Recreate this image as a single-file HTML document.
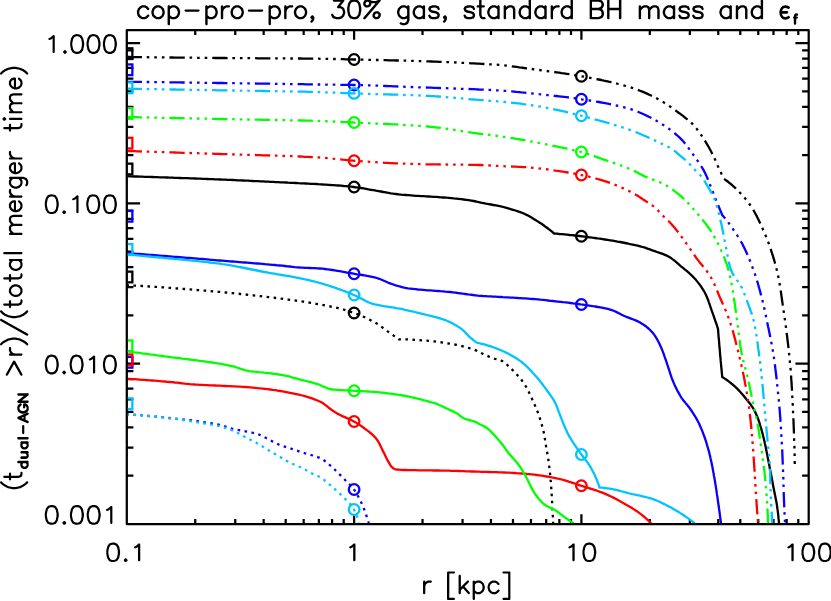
<!DOCTYPE html>
<html lang="en"><head><meta charset="utf-8"><title>cop-pro-pro, 30% gas, standard BH mass and epsilon_f</title>
<style>html,body{margin:0;padding:0;background:#fff;font-family:"Liberation Sans",sans-serif}svg{display:block}</style></head><body>
<svg width="831" height="601" viewBox="0 0 831 601" role="img" aria-label="cop-pro-pro, 30% gas, standard BH mass and epsilon_f; x axis r [kpc]; y axis (t_dual-AGN &gt;r)/(total merger time)">
<rect width="831" height="601" fill="#fff"/>
<defs><clipPath id="pc"><rect x="127.80" y="31.15" width="679.90" height="491.85"/></clipPath></defs>
<g stroke="#000" stroke-width="2.25" fill="none" stroke-linecap="butt">
<rect x="126.80" y="30.15" width="681.90" height="493.85" stroke-linejoin="round"/>
<path d="M195.22 524.00v-4.90M195.22 30.15v4.90M235.25 524.00v-4.90M235.25 30.15v4.90M263.65 524.00v-4.90M263.65 30.15v4.90M285.68 524.00v-4.90M285.68 30.15v4.90M303.67 524.00v-4.90M303.67 30.15v4.90M318.89 524.00v-4.90M318.89 30.15v4.90M332.07 524.00v-4.90M332.07 30.15v4.90M343.70 524.00v-4.90M343.70 30.15v4.90M354.10 524.00v-9.70M354.10 30.15v9.70M422.52 524.00v-4.90M422.52 30.15v4.90M462.55 524.00v-4.90M462.55 30.15v4.90M490.95 524.00v-4.90M490.95 30.15v4.90M512.98 524.00v-4.90M512.98 30.15v4.90M530.97 524.00v-4.90M530.97 30.15v4.90M546.19 524.00v-4.90M546.19 30.15v4.90M559.37 524.00v-4.90M559.37 30.15v4.90M571.00 524.00v-4.90M571.00 30.15v4.90M581.40 524.00v-9.70M581.40 30.15v9.70M649.82 524.00v-4.90M649.82 30.15v4.90M689.85 524.00v-4.90M689.85 30.15v4.90M718.25 524.00v-4.90M718.25 30.15v4.90M740.28 524.00v-4.90M740.28 30.15v4.90M758.27 524.00v-4.90M758.27 30.15v4.90M773.49 524.00v-4.90M773.49 30.15v4.90M786.67 524.00v-4.90M786.67 30.15v4.90M798.30 524.00v-4.90M798.30 30.15v4.90M126.80 475.74h6.60M808.70 475.74h-6.60M126.80 447.52h6.60M808.70 447.52h-6.60M126.80 427.49h6.60M808.70 427.49h-6.60M126.80 411.96h6.60M808.70 411.96h-6.60M126.80 399.26h6.60M808.70 399.26h-6.60M126.80 388.53h6.60M808.70 388.53h-6.60M126.80 379.23h6.60M808.70 379.23h-6.60M126.80 371.03h6.60M808.70 371.03h-6.60M126.80 363.70h13.30M808.70 363.70h-13.30M126.80 315.44h6.60M808.70 315.44h-6.60M126.80 287.22h6.60M808.70 287.22h-6.60M126.80 267.19h6.60M808.70 267.19h-6.60M126.80 251.66h6.60M808.70 251.66h-6.60M126.80 238.96h6.60M808.70 238.96h-6.60M126.80 228.23h6.60M808.70 228.23h-6.60M126.80 218.93h6.60M808.70 218.93h-6.60M126.80 210.73h6.60M808.70 210.73h-6.60M126.80 203.40h13.30M808.70 203.40h-13.30M126.80 155.14h6.60M808.70 155.14h-6.60M126.80 126.92h6.60M808.70 126.92h-6.60M126.80 106.89h6.60M808.70 106.89h-6.60M126.80 91.36h6.60M808.70 91.36h-6.60M126.80 78.66h6.60M808.70 78.66h-6.60M126.80 67.93h6.60M808.70 67.93h-6.60M126.80 58.63h6.60M808.70 58.63h-6.60M126.80 50.43h6.60M808.70 50.43h-6.60M126.80 43.10h13.30M808.70 43.10h-13.30"/>
</g>
<g clip-path="url(#pc)" fill="none" stroke-width="2.30" stroke-linejoin="round">
<path d="M127.0 176.2L129.5 176.3L132.0 176.4L134.6 176.5L137.1 176.5L139.6 176.6L142.1 176.7L144.6 176.8L147.2 176.9L149.7 176.9L152.2 177.0L154.7 177.1L157.2 177.2L159.8 177.3L162.3 177.4L164.8 177.4L167.3 177.5L169.8 177.6L172.4 177.7L174.9 177.8L177.4 177.9L179.9 178.0L182.4 178.1L184.9 178.2L187.5 178.2L190.0 178.3L192.5 178.4L195.0 178.5L197.5 178.6L200.1 178.7L202.6 178.8L205.1 178.9L207.6 179.0L210.1 179.1L212.7 179.2L215.2 179.3L217.7 179.4L220.2 179.5L222.7 179.6L225.3 179.7L227.8 179.8L230.3 179.9L232.8 180.0L235.3 180.1L237.8 180.3L240.4 180.4L242.9 180.5L245.4 180.6L247.9 180.7L250.4 180.8L253.0 181.0L255.5 181.1L258.0 181.2L260.5 181.3L263.0 181.4L265.5 181.6L268.1 181.7L270.6 181.8L273.1 181.9L275.6 182.1L278.1 182.2L280.6 182.3L283.2 182.4L285.7 182.5L288.2 182.7L290.7 182.8L293.2 182.9L295.8 183.0L298.3 183.2L300.8 183.3L303.3 183.4L305.8 183.5L308.3 183.6L310.9 183.8L313.4 183.9L315.9 184.0L318.4 184.2L320.9 184.3L323.4 184.5L326.0 184.6L328.5 184.8L331.0 185.0L333.5 185.1L336.0 185.3L338.5 185.5L341.1 185.7L343.6 186.0L346.1 186.2L348.6 186.4L351.1 186.7L353.6 187.0L356.1 187.3L358.6 187.6L361.1 188.0L363.6 188.4L366.0 188.9L368.5 189.4L371.0 189.8L373.5 190.2L376.0 190.7L378.5 191.1L381.0 191.5L383.4 192.0L385.9 192.4L388.4 192.8L390.9 193.3L393.4 193.7L395.9 194.0L398.4 194.3L400.9 194.6L403.4 194.8L405.9 195.0L408.4 195.2L410.9 195.4L413.4 195.6L415.9 195.8L418.5 195.9L421.0 196.1L423.5 196.2L426.0 196.4L428.5 196.5L431.1 196.6L433.6 196.8L436.1 196.9L438.6 197.1L441.1 197.3L443.6 197.5L446.2 197.7L448.7 197.9L451.2 198.1L453.7 198.4L456.2 198.6L458.7 198.9L461.2 199.2L463.7 199.5L466.2 199.8L468.7 200.2L471.2 200.6L473.7 201.0L476.1 201.5L478.6 202.1L481.0 202.7L483.5 203.2L486.0 203.7L488.5 204.1L491.0 204.5L493.4 205.0L495.9 205.4L498.4 205.9L500.9 206.4L503.3 207.0L505.7 207.7L508.2 208.4L510.6 209.1L513.1 209.8L515.5 210.5L517.9 211.3L520.2 212.1L522.6 213.0L524.8 214.0L527.1 215.1L529.3 216.3L531.5 217.6L533.7 218.9L535.9 220.2L538.0 221.6L540.1 222.9L542.2 224.3L544.3 225.8L546.3 227.3L548.4 228.8L550.4 230.3L552.3 231.9L554.2 233.5L556.8 233.7L559.3 234.0L561.9 234.2L564.4 234.4L567.0 234.7L569.5 235.0L572.1 235.2L574.6 235.5L577.2 235.8L579.7 236.0L582.2 236.3L584.8 236.7L587.3 237.0L589.8 237.3L592.4 237.7L594.9 238.0L597.4 238.4L600.0 238.7L602.5 239.1L605.0 239.5L607.6 239.9L610.1 240.3L612.6 240.7L615.1 241.1L617.6 241.6L620.2 242.0L622.7 242.5L625.2 243.0L627.7 243.5L630.2 244.1L632.7 244.6L635.2 245.1L637.7 245.7L640.2 246.3L642.6 247.0L645.1 247.7L647.5 248.6L649.9 249.4L652.3 250.3L654.7 251.1L657.1 252.0L659.6 252.8L662.0 253.7L664.4 254.6L666.7 255.6L668.9 256.8L671.1 258.1L673.1 259.6L675.1 261.2L677.1 262.9L679.1 264.6L681.0 266.3L683.0 267.9L685.0 269.6L687.0 271.2L688.9 272.9L690.8 274.6L692.7 276.4L694.4 278.2L696.1 280.1L697.7 282.1L699.3 284.1L700.8 286.2L702.2 288.4L703.6 290.5L704.9 292.8L706.0 295.0L707.0 297.3L708.0 299.7L708.8 302.1L709.7 304.5L710.5 307.0L711.3 309.4L712.2 311.8L713.0 314.2L713.9 316.7L714.7 319.1L715.5 321.5L716.4 323.9L717.2 326.3L718.0 328.8L718.2 331.4L718.4 334.1L718.6 336.8L718.9 339.5L719.1 342.2L719.3 344.8L719.5 347.5L719.8 350.2L720.0 352.9L720.2 355.6L720.5 358.2L720.7 360.9L721.0 363.6L721.2 366.3L721.5 369.0L721.7 371.6L722.0 374.3L722.2 377.0L724.4 378.4L726.5 379.8L728.6 381.3L730.6 382.9L732.6 384.5L734.5 386.1L736.3 387.8L738.1 389.6L739.9 391.5L741.6 393.4L743.2 395.3L744.8 397.3L746.4 399.3L748.0 401.2L749.7 403.2L751.2 405.3L752.6 407.3L753.9 409.5L755.1 411.7L756.1 414.1L757.1 416.4L758.1 418.8L758.9 421.2L759.7 423.6L760.4 426.0L761.2 428.5L761.8 430.9L762.5 433.4L763.1 435.8L763.7 438.3L764.3 440.8L764.8 443.3L765.4 445.7L765.9 448.2L766.4 450.7L766.9 453.2L767.4 455.7L767.9 458.2L768.4 460.7L768.9 463.2L769.4 465.7L769.8 468.2L770.3 470.7L770.8 473.2L771.3 475.6L771.7 478.1L772.2 480.6L772.7 483.1L773.1 485.6L773.6 488.1L774.1 490.6L774.6 493.1L775.1 495.6L775.6 498.1L776.1 500.6L776.6 503.1L777.0 505.6L777.3 508.1L777.7 510.6L778.0 513.1L778.3 515.7L778.5 518.2L778.8 520.7L779.0 523.2" stroke="#000000"/>
<path d="M127.0 285.2L129.5 285.3L132.1 285.5L134.6 285.6L137.1 285.7L139.7 285.9L142.2 286.0L144.7 286.2L147.2 286.3L149.8 286.5L152.3 286.7L154.8 286.8L157.4 287.0L159.9 287.2L162.4 287.3L165.0 287.5L167.5 287.7L170.0 287.9L172.5 288.1L175.1 288.3L177.6 288.5L180.1 288.6L182.6 288.8L185.2 289.0L187.7 289.2L190.2 289.4L192.7 289.7L195.3 289.9L197.8 290.1L200.3 290.3L202.8 290.5L205.4 290.7L207.9 290.9L210.4 291.1L212.9 291.4L215.5 291.6L218.0 291.8L220.5 292.0L223.0 292.3L225.5 292.5L228.1 292.7L230.6 293.0L233.1 293.2L235.6 293.5L238.2 293.7L240.7 294.0L243.2 294.3L245.7 294.5L248.2 294.8L250.8 295.1L253.3 295.3L255.8 295.6L258.3 295.9L260.8 296.2L263.3 296.5L265.9 296.8L268.4 297.1L270.9 297.4L273.4 297.7L275.9 298.0L278.4 298.3L281.0 298.6L283.5 299.0L286.0 299.3L288.5 299.6L291.0 300.0L293.5 300.3L296.0 300.6L298.5 301.0L301.0 301.3L303.5 301.7L306.1 302.1L308.6 302.5L311.1 302.9L313.6 303.4L316.0 303.8L318.5 304.2L321.0 304.7L323.5 305.1L326.0 305.6L328.5 306.1L331.0 306.6L333.5 307.1L336.0 307.6L338.4 308.2L340.9 308.9L343.3 309.5L345.7 310.3L348.2 311.0L350.6 311.8L353.0 312.6L355.3 313.5L357.7 314.4L360.1 315.3L362.4 316.3L364.8 317.3L367.1 318.4L369.4 319.5L371.6 320.7L373.8 321.9L376.0 323.1L378.1 324.4L380.2 325.9L382.3 327.4L384.3 328.9L386.4 330.4L388.4 331.9L390.5 333.4L392.6 334.8L394.6 336.3L396.7 337.8L398.8 339.3L401.3 339.3L403.8 339.3L406.4 339.4L408.9 339.5L411.5 339.6L414.0 339.8L416.5 339.9L419.1 340.1L421.6 340.3L424.1 340.4L426.7 340.6L429.2 340.8L431.7 341.1L434.3 341.4L436.8 341.7L439.3 342.1L441.8 342.4L444.3 342.8L446.9 343.2L449.4 343.6L451.8 344.1L454.4 344.5L456.9 345.0L459.4 345.6L461.9 346.1L464.4 346.7L466.8 347.4L469.3 348.1L471.7 348.9L474.1 349.7L476.4 350.6L478.6 351.8L480.9 352.9L483.2 354.0L485.6 355.1L487.9 356.1L490.2 357.1L492.6 358.0L495.0 358.8L497.5 359.3L500.0 360.0L502.1 361.0L504.2 362.4L506.3 364.0L508.2 365.8L510.1 367.6L511.9 369.4L513.7 371.2L515.5 373.0L517.2 374.9L518.9 376.8L520.6 378.8L522.1 380.8L523.6 382.9L525.0 385.0L526.3 387.1L527.5 389.4L528.6 391.6L529.7 393.9L530.8 396.3L531.9 398.6L532.9 400.9L534.0 403.2L535.0 405.6L536.0 407.9L537.0 410.3L537.9 412.6L538.8 415.0L539.6 417.4L540.3 419.8L541.1 422.3L541.8 424.7L542.5 427.2L543.1 429.6L543.7 432.1L544.2 434.6L544.6 437.1L545.0 439.6L545.4 442.1L545.8 444.6L546.2 447.1L546.6 449.7L547.1 452.2L547.5 454.7L547.9 457.2L548.4 459.7L548.7 462.2L549.0 464.7L549.3 467.2L549.6 469.8L549.9 472.3L550.2 474.8L550.4 477.3L550.6 479.9L550.9 482.4L551.1 484.9L551.2 487.5L551.4 490.0L551.6 492.5L551.7 495.1L551.9 497.6L552.0 500.2L552.1 502.7L552.2 505.2L552.4 507.8L552.5 510.3L552.7 512.9L552.8 515.4L553.0 517.9L553.1 520.5L553.2 523.0" stroke="#000000" stroke-dasharray="2.6 4.44" stroke-dashoffset="0.65"/>
<path d="M127.0 57.0L129.5 57.0L132.0 57.1L134.5 57.1L137.1 57.1L139.6 57.2L142.1 57.2L144.6 57.2L147.1 57.2L149.6 57.3L152.2 57.3L154.7 57.3L157.2 57.4L159.7 57.4L162.2 57.4L164.7 57.4L167.3 57.5L169.8 57.5L172.3 57.5L174.8 57.6L177.3 57.6L179.8 57.6L182.3 57.6L184.9 57.7L187.4 57.7L189.9 57.7L192.4 57.7L194.9 57.8L197.4 57.8L200.0 57.8L202.5 57.8L205.0 57.9L207.5 57.9L210.0 57.9L212.5 57.9L215.1 58.0L217.6 58.0L220.1 58.0L222.6 58.0L225.1 58.0L227.6 58.1L230.1 58.1L232.7 58.1L235.2 58.1L237.7 58.1L240.2 58.2L242.7 58.2L245.2 58.2L247.8 58.2L250.3 58.2L252.8 58.2L255.3 58.2L257.8 58.3L260.3 58.3L262.9 58.3L265.4 58.3L267.9 58.3L270.4 58.3L272.9 58.4L275.4 58.4L278.0 58.4L280.5 58.4L283.0 58.4L285.5 58.4L288.0 58.5L290.5 58.5L293.0 58.5L295.6 58.5L298.1 58.5L300.6 58.5L303.1 58.6L305.6 58.6L308.1 58.6L310.7 58.6L313.2 58.7L315.7 58.7L318.2 58.7L320.7 58.8L323.2 58.8L325.8 58.8L328.3 58.9L330.8 58.9L333.3 59.0L335.8 59.0L338.3 59.1L340.8 59.2L343.4 59.2L345.9 59.3L348.4 59.4L350.9 59.4L353.4 59.5L355.9 59.5L358.5 59.6L361.0 59.7L363.5 59.7L366.0 59.8L368.5 59.8L371.0 59.9L373.5 59.9L376.1 60.0L378.6 60.0L381.1 60.1L383.6 60.2L386.1 60.2L388.6 60.3L391.2 60.3L393.7 60.4L396.2 60.5L398.7 60.5L401.2 60.6L403.7 60.6L406.2 60.7L408.8 60.8L411.3 60.8L413.8 60.9L416.3 61.0L418.8 61.1L421.3 61.1L423.8 61.2L426.4 61.3L428.9 61.4L431.4 61.5L433.9 61.6L436.4 61.7L438.9 61.8L441.4 61.9L444.0 62.0L446.5 62.1L449.0 62.2L451.5 62.3L454.0 62.4L456.5 62.5L459.0 62.7L461.6 62.8L464.1 62.9L466.6 63.0L469.1 63.2L471.6 63.3L474.1 63.4L476.6 63.6L479.1 63.7L481.7 63.8L484.2 64.0L486.7 64.1L489.2 64.3L491.7 64.4L494.2 64.6L496.7 64.7L499.2 64.9L501.7 65.1L504.2 65.4L506.7 65.7L509.2 65.9L511.7 66.3L514.2 66.6L516.7 66.9L519.2 67.3L521.7 67.6L524.2 68.0L526.7 68.3L529.2 68.6L531.7 69.0L534.2 69.3L536.7 69.6L539.2 70.0L541.7 70.3L544.2 70.6L546.7 71.0L549.2 71.3L551.6 71.7L554.1 72.0L556.6 72.3L559.1 72.7L561.6 73.1L564.1 73.4L566.6 73.8L569.1 74.2L571.6 74.6L574.0 75.0L576.5 75.4L579.0 75.8L581.5 76.3L583.9 76.7L586.4 77.2L588.9 77.6L591.4 78.1L593.9 78.6L596.3 79.0L598.8 79.5L601.3 80.0L603.8 80.6L606.2 81.1L608.7 81.7L611.2 82.2L613.6 82.8L616.1 83.4L618.5 84.0L620.9 84.6L623.4 85.3L625.8 86.0L628.2 86.7L630.6 87.4L632.9 88.1L635.3 88.9L637.7 89.8L640.0 90.7L642.4 91.6L644.7 92.6L647.0 93.6L649.3 94.7L651.6 95.8L653.9 96.9L656.1 98.0L658.3 99.2L660.5 100.4L662.6 101.7L664.8 103.1L666.9 104.4L669.0 105.8L671.1 107.3L673.1 108.7L675.2 110.2L677.2 111.7L679.3 113.2L681.3 114.7L683.3 116.2L685.3 117.8L687.3 119.3L689.2 121.0L691.1 122.6L692.9 124.4L694.6 126.2L696.2 128.1L697.7 130.1L699.2 132.1L700.7 134.2L702.1 136.3L703.5 138.4L704.8 140.6L706.1 142.7L707.4 144.9L708.7 147.0L709.9 149.2L711.1 151.5L712.2 153.7L713.4 156.0L714.4 158.2L715.5 160.5L716.4 162.8L717.4 165.2L718.5 167.4L719.5 169.7L720.6 172.0L721.7 174.3L722.9 176.5L724.0 178.8L726.0 180.3L728.1 181.8L730.0 183.4L732.0 185.0L733.8 186.7L735.7 188.4L737.4 190.2L739.2 192.0L741.0 193.8L742.7 195.7L744.4 197.6L746.0 199.5L747.6 201.5L749.1 203.5L750.5 205.6L751.9 207.7L753.2 209.8L754.5 212.0L755.7 214.2L756.9 216.4L758.0 218.7L759.1 221.0L760.2 223.3L761.3 225.6L762.3 227.9L763.3 230.2L764.3 232.5L765.3 234.8L766.3 237.2L767.2 239.5L768.1 241.9L769.0 244.2L769.9 246.6L770.7 249.0L771.4 251.4L772.2 253.8L773.0 256.2L773.7 258.6L774.4 261.0L775.1 263.5L775.8 265.9L776.4 268.4L777.0 270.8L777.6 273.3L778.1 275.7L778.6 278.2L779.1 280.7L779.5 283.1L779.9 285.6L780.3 288.1L780.7 290.6L781.1 293.1L781.4 295.6L781.8 298.1L782.1 300.6L782.5 303.1L782.8 305.6L783.2 308.1L783.6 310.6L783.9 313.1L784.3 315.6L784.7 318.1L785.0 320.6L785.4 323.1L785.7 325.6L786.1 328.1L786.4 330.6L786.7 333.1L787.0 335.6L787.3 338.1L787.6 340.6L787.9 343.1L788.2 345.6L788.5 348.1L788.7 350.7L789.0 353.2L789.3 355.7L789.5 358.2L789.8 360.7L790.0 363.2L790.2 365.7L790.5 368.2L790.7 370.8L790.9 373.3L791.1 375.8L791.2 378.3L791.4 380.8L791.6 383.3L791.7 385.8L791.9 388.4L792.0 390.9L792.2 393.4L792.3 395.9L792.4 398.4L792.6 401.0L792.7 403.5L792.8 406.0L792.9 408.5L793.0 411.0L793.1 413.6L793.3 416.1L793.4 418.6L793.5 421.1L793.6 423.7L793.7 426.2L793.8 428.7L793.9 431.2L794.0 433.7L794.0 436.3L794.1 438.8L794.2 441.3L794.3 443.8L794.4 446.3L794.4 448.9L794.5 451.4L794.6 453.9L794.6 456.4L794.7 459.0L794.7 461.5L794.8 464.0" stroke="#000000" pathLength="943.12" stroke-dasharray="15.3 4.75 2.6 4.95 2.6 4.95 2.6 5" stroke-dashoffset="0.35"/>
<path d="M127.0 378.8L129.5 378.9L132.0 379.1L134.5 379.2L137.1 379.4L139.6 379.6L142.1 379.8L144.6 379.9L147.1 380.1L149.6 380.3L152.1 380.5L154.7 380.7L157.2 380.9L159.7 381.1L162.2 381.3L164.7 381.5L167.2 381.8L169.7 382.0L172.2 382.2L174.7 382.5L177.2 382.7L179.7 383.0L182.3 383.3L184.8 383.6L187.3 383.8L189.8 384.1L192.3 384.3L194.8 384.5L197.3 384.6L199.8 384.8L202.3 384.9L204.9 385.1L207.4 385.2L209.9 385.3L212.4 385.4L214.9 385.5L217.4 385.6L220.0 385.7L222.5 385.9L225.0 386.0L227.5 386.1L230.0 386.2L232.5 386.3L235.1 386.4L237.6 386.6L240.1 386.7L242.6 386.8L245.1 387.0L247.6 387.2L250.2 387.4L252.7 387.6L255.2 387.8L257.7 388.1L260.2 388.3L262.7 388.6L265.2 388.9L267.7 389.2L270.2 389.5L272.7 389.9L275.2 390.2L277.7 390.6L280.2 391.0L282.7 391.4L285.1 391.8L287.6 392.3L290.1 392.8L292.6 393.3L295.0 393.8L297.5 394.3L300.0 394.9L302.4 395.5L304.8 396.2L307.2 396.9L309.7 397.6L312.1 398.4L314.5 399.3L316.8 400.2L319.1 401.2L321.4 402.3L323.5 403.6L325.5 405.1L327.5 406.7L329.4 408.3L331.5 409.8L333.6 411.2L335.7 412.6L337.9 413.9L340.1 415.0L342.4 416.1L344.7 417.1L347.0 418.1L349.3 419.1L351.6 420.2L353.8 421.4L356.0 422.6L358.1 424.0L360.3 425.4L362.3 426.8L364.4 428.3L366.4 429.8L368.5 431.4L370.5 433.0L372.4 434.6L374.2 436.4L375.9 438.2L377.3 440.1L378.6 442.2L379.8 444.4L380.9 446.8L382.0 449.1L383.1 451.4L384.3 453.6L385.4 455.9L386.5 458.2L387.6 460.4L388.9 462.6L390.2 464.8L391.6 466.9L393.5 468.5L395.9 469.5L398.3 469.7L400.8 469.9L403.4 470.0L405.9 470.0L408.4 470.1L410.9 470.1L413.5 470.2L416.0 470.2L418.5 470.3L421.0 470.3L423.5 470.4L426.1 470.4L428.6 470.4L431.1 470.4L433.6 470.5L436.1 470.5L438.7 470.5L441.2 470.6L443.7 470.6L446.2 470.7L448.7 470.7L451.3 470.8L453.8 470.8L456.3 470.9L458.8 471.0L461.3 471.1L463.8 471.2L466.4 471.3L468.9 471.4L471.4 471.5L473.9 471.5L476.4 471.6L479.0 471.7L481.5 471.8L484.0 471.9L486.5 471.9L489.0 472.0L491.6 472.1L494.1 472.1L496.6 472.2L499.1 472.3L501.6 472.4L504.1 472.5L506.7 472.6L509.2 472.7L511.7 472.8L514.2 473.0L516.7 473.2L519.3 473.3L521.8 473.5L524.3 473.7L526.8 474.0L529.3 474.2L531.8 474.4L534.3 474.7L536.8 475.0L539.3 475.3L541.8 475.7L544.3 476.1L546.8 476.5L549.3 476.9L551.8 477.4L554.2 477.8L556.7 478.4L559.1 478.9L561.6 479.5L564.0 480.2L566.4 480.9L568.8 481.7L571.2 482.4L573.6 483.2L576.0 484.0L578.4 484.8L580.8 485.6L583.2 486.3L585.7 487.1L588.1 487.8L590.5 488.6L592.9 489.4L595.3 490.2L597.7 491.0L600.0 491.8L602.4 492.7L604.7 493.6L607.0 494.6L609.3 495.7L611.6 496.8L613.8 497.9L616.1 499.1L618.3 500.3L620.5 501.5L622.7 502.7L624.9 503.9L627.1 505.2L629.3 506.4L631.5 507.7L633.6 509.1L635.7 510.5L637.8 511.9L639.8 513.4L641.8 514.9L643.8 516.5L645.7 518.1L647.6 519.8L649.4 521.5L651.2 523.2" stroke="#ff0000"/>
<path d="M127.0 151.0L129.5 151.1L132.0 151.2L134.5 151.2L137.0 151.3L139.5 151.4L142.1 151.5L144.6 151.5L147.1 151.6L149.6 151.7L152.1 151.8L154.6 151.9L157.1 151.9L159.6 152.0L162.1 152.1L164.6 152.2L167.1 152.3L169.7 152.3L172.2 152.4L174.7 152.5L177.2 152.6L179.7 152.7L182.2 152.8L184.7 152.8L187.2 152.9L189.7 153.0L192.2 153.1L194.7 153.2L197.2 153.2L199.8 153.3L202.3 153.4L204.8 153.5L207.3 153.6L209.8 153.7L212.3 153.7L214.8 153.8L217.3 153.9L219.8 154.0L222.3 154.1L224.8 154.2L227.4 154.2L229.9 154.3L232.4 154.4L234.9 154.5L237.4 154.5L239.9 154.6L242.4 154.7L244.9 154.8L247.4 154.8L249.9 154.9L252.5 155.0L255.0 155.0L257.5 155.1L260.0 155.2L262.5 155.3L265.0 155.3L267.5 155.4L270.0 155.5L272.5 155.6L275.0 155.6L277.6 155.7L280.1 155.8L282.6 155.9L285.1 156.0L287.6 156.1L290.1 156.1L292.6 156.2L295.1 156.3L297.6 156.4L300.1 156.5L302.6 156.6L305.1 156.8L307.7 156.9L310.2 157.0L312.7 157.1L315.2 157.2L317.7 157.4L320.2 157.5L322.7 157.7L325.2 157.9L327.7 158.1L330.2 158.3L332.7 158.6L335.2 158.8L337.7 159.1L340.2 159.4L342.7 159.7L345.2 159.9L347.7 160.2L350.2 160.4L352.7 160.6L355.2 160.8L357.7 161.0L360.2 161.2L362.7 161.4L365.2 161.6L367.7 161.7L370.2 161.9L372.7 162.1L375.2 162.2L377.7 162.4L380.2 162.5L382.7 162.7L385.2 162.8L387.7 162.9L390.2 163.1L392.7 163.2L395.2 163.3L397.8 163.4L400.3 163.5L402.8 163.6L405.3 163.7L407.8 163.8L410.3 163.9L412.8 163.9L415.3 164.0L417.8 164.1L420.3 164.1L422.8 164.2L425.4 164.3L427.9 164.3L430.4 164.3L432.9 164.4L435.4 164.4L437.9 164.4L440.4 164.5L442.9 164.5L445.4 164.5L447.9 164.6L450.5 164.6L453.0 164.6L455.5 164.6L458.0 164.7L460.5 164.7L463.0 164.7L465.5 164.7L468.0 164.8L470.5 164.8L473.0 164.9L475.6 164.9L478.1 165.0L480.6 165.0L483.1 165.1L485.6 165.2L488.1 165.3L490.6 165.5L493.1 165.6L495.6 165.8L498.1 165.9L500.6 166.0L503.1 166.2L505.6 166.3L508.2 166.4L510.7 166.5L513.2 166.6L515.7 166.7L518.2 166.8L520.7 166.9L523.2 167.1L525.7 167.2L528.2 167.4L530.7 167.6L533.2 167.8L535.7 168.0L538.2 168.3L540.7 168.6L543.2 168.9L545.7 169.2L548.2 169.5L550.7 169.9L553.1 170.2L555.6 170.6L558.1 170.9L560.6 171.3L563.1 171.7L565.6 172.1L568.0 172.5L570.5 172.9L573.0 173.4L575.5 173.8L577.9 174.3L580.4 174.8L582.8 175.3L585.3 175.8L587.7 176.4L590.2 177.0L592.6 177.6L595.0 178.3L597.5 179.0L599.9 179.7L602.3 180.4L604.7 181.1L607.0 181.9L609.4 182.7L611.8 183.6L614.1 184.5L616.5 185.4L618.8 186.4L621.1 187.4L623.4 188.4L625.7 189.4L628.0 190.5L630.2 191.6L632.4 192.8L634.6 194.0L636.7 195.3L638.9 196.6L641.0 198.0L643.1 199.4L645.2 200.7L647.3 202.1L649.4 203.5L651.5 204.9L653.6 206.4L655.5 207.9L657.3 209.6L659.0 211.5L660.7 213.3L662.5 215.2L664.2 217.0L666.1 218.7L667.9 220.4L669.7 222.2L671.4 224.0L673.0 225.9L674.6 227.8L676.2 229.8L677.8 231.8L679.3 233.8L680.8 235.7L682.3 237.8L683.8 239.8L685.2 241.8L686.6 243.9L688.1 246.0L689.5 248.1L690.9 250.1L692.3 252.2L693.7 254.3L695.2 256.3L696.6 258.4L698.2 260.4L699.7 262.4L701.3 264.3L702.9 266.3L704.5 268.3L706.1 270.2L707.6 272.2L709.0 274.3L710.3 276.4L711.6 278.5L712.7 280.7L713.8 283.0L714.8 285.2L715.8 287.6L716.8 289.9L717.7 292.2L718.7 294.6L719.7 296.9L720.7 299.2L721.7 301.5L722.7 303.8L723.8 306.1L724.8 308.4L725.8 310.7L726.7 313.0L727.6 315.4L728.5 317.7L729.3 320.1L730.2 322.4L730.9 324.8L731.7 327.2L732.4 329.6L733.1 332.0L733.8 334.4L734.4 336.9L735.1 339.3L735.7 341.7L736.3 344.2L737.0 346.6L737.6 349.0L738.2 351.5L738.8 353.9L739.4 356.4L739.9 358.8L740.5 361.2L741.1 363.7L741.6 366.1L742.2 368.6L742.7 371.0L743.2 373.5L743.7 376.0L744.2 378.4L744.7 380.9L745.1 383.4L745.6 385.8L746.1 388.3L746.5 390.8L746.9 393.2L747.3 395.7L747.7 398.2L748.1 400.7L748.4 403.2L748.8 405.6L749.1 408.1L749.4 410.6L749.7 413.1L750.0 415.6L750.3 418.1L750.6 420.6L750.8 423.1L751.1 425.6L751.3 428.1L751.5 430.6L751.7 433.1L752.0 435.6L752.2 438.1L752.4 440.6L752.6 443.1L752.8 445.6L753.0 448.1L753.2 450.6L753.3 453.1L753.5 455.6L753.7 458.1L753.9 460.6L754.0 463.1L754.2 465.6L754.4 468.1L754.5 470.7L754.7 473.2L754.8 475.7L755.0 478.2L755.1 480.7L755.3 483.2L755.4 485.7L755.6 488.2L755.7 490.7L755.9 493.2L756.0 495.7L756.2 498.2L756.4 500.7L756.6 503.2L756.7 505.7L756.9 508.2L757.1 510.7L757.3 513.2L757.4 515.7L757.6 518.2L757.8 520.7L758.0 523.3" stroke="#ff0000" stroke-dasharray="15.3 4.75 2.6 4.95 2.6 4.95 2.6 5" stroke-dashoffset="0.35"/>
<path d="M127.0 351.2L129.5 351.6L132.0 351.9L134.5 352.3L137.0 352.6L139.5 352.9L142.0 353.3L144.5 353.6L147.0 353.9L149.5 354.3L152.0 354.6L154.5 354.9L157.0 355.3L159.5 355.6L162.0 355.9L164.5 356.3L167.0 356.6L169.5 356.9L172.0 357.3L174.5 357.6L177.0 357.9L179.5 358.2L182.1 358.6L184.6 358.9L187.1 359.2L189.6 359.5L192.1 359.8L194.6 360.1L197.1 360.4L199.6 360.8L202.1 361.1L204.6 361.4L207.1 361.8L209.6 362.1L212.1 362.5L214.6 362.9L217.1 363.3L219.6 363.7L222.0 364.1L224.5 364.6L227.0 365.1L229.5 365.6L231.9 366.1L234.4 366.7L236.8 367.5L239.2 368.3L241.6 369.1L244.1 369.9L246.5 370.5L248.9 371.1L251.4 371.4L253.9 371.7L256.4 371.9L258.9 372.2L261.5 372.4L264.0 372.7L266.5 372.9L269.0 373.2L271.5 373.5L274.0 373.8L276.5 374.1L279.0 374.5L281.5 374.8L284.0 375.3L286.4 375.8L288.9 376.4L291.3 377.1L293.8 377.8L296.2 378.4L298.6 379.1L301.1 379.8L303.5 380.4L306.0 381.0L308.5 381.6L310.9 382.2L313.4 382.9L315.8 383.6L318.2 384.3L320.5 385.2L322.8 386.4L325.1 387.3L327.5 388.3L329.9 389.0L332.4 389.5L334.8 389.7L337.3 389.9L339.9 390.1L342.4 390.2L344.9 390.3L347.5 390.4L350.0 390.5L352.5 390.7L355.1 390.8L357.6 391.0L360.1 391.1L362.6 391.2L365.1 391.4L367.7 391.5L370.2 391.7L372.7 391.8L375.2 392.0L377.7 392.2L380.2 392.5L382.8 392.7L385.3 393.0L387.8 393.3L390.3 393.6L392.8 393.9L395.3 394.3L397.8 394.7L400.3 395.0L402.8 395.5L405.2 395.9L407.7 396.4L410.2 396.9L412.7 397.5L415.1 398.0L417.6 398.6L420.0 399.2L422.5 399.9L424.9 400.5L427.4 401.1L429.8 401.8L432.2 402.5L434.7 403.2L437.0 404.0L439.4 405.0L441.7 406.0L444.0 407.1L446.2 408.2L448.5 409.3L450.8 410.4L453.1 411.4L455.4 412.5L457.6 413.8L459.6 415.3L461.6 416.9L463.7 418.2L466.0 419.2L468.4 420.0L470.9 420.5L473.3 421.1L475.7 422.0L477.9 423.3L480.1 424.5L482.4 425.5L484.7 426.6L486.8 427.9L488.8 429.5L490.6 431.3L492.4 433.1L494.1 434.9L495.8 436.8L497.5 438.7L499.1 440.6L500.8 442.5L502.4 444.5L503.9 446.5L505.3 448.6L506.7 450.7L508.2 452.7L509.8 454.6L511.6 456.5L513.2 458.4L514.9 460.3L516.6 462.2L518.1 464.2L519.6 466.2L521.0 468.3L522.3 470.4L523.6 472.6L524.9 474.8L526.1 477.0L527.3 479.3L528.4 481.6L529.5 483.8L530.6 486.1L531.8 488.4L533.0 490.6L534.3 492.7L535.7 494.8L537.2 496.8L538.8 498.9L540.5 500.8L542.2 502.7L544.1 504.3L546.1 505.7L548.3 506.8L550.6 507.9L553.0 508.9L555.2 510.1L557.3 511.5L559.3 513.1L561.3 514.6L563.3 516.2L565.3 517.7L567.4 519.1L569.5 520.5L571.6 521.9L573.7 523.2" stroke="#00ff00"/>
<path d="M127.0 117.0L129.5 117.1L132.0 117.1L134.5 117.2L137.0 117.2L139.6 117.3L142.1 117.3L144.6 117.4L147.1 117.4L149.6 117.5L152.1 117.6L154.6 117.6L157.1 117.7L159.6 117.7L162.2 117.8L164.7 117.8L167.2 117.9L169.7 117.9L172.2 118.0L174.7 118.0L177.2 118.1L179.7 118.2L182.2 118.2L184.8 118.3L187.3 118.3L189.8 118.4L192.3 118.4L194.8 118.5L197.3 118.5L199.8 118.6L202.3 118.6L204.9 118.7L207.4 118.7L209.9 118.8L212.4 118.8L214.9 118.9L217.4 118.9L219.9 119.0L222.4 119.0L224.9 119.1L227.5 119.1L230.0 119.2L232.5 119.2L235.0 119.3L237.5 119.3L240.0 119.4L242.5 119.4L245.0 119.5L247.5 119.5L250.1 119.6L252.6 119.6L255.1 119.6L257.6 119.7L260.1 119.7L262.6 119.8L265.1 119.8L267.6 119.9L270.2 119.9L272.7 119.9L275.2 120.0L277.7 120.0L280.2 120.1L282.7 120.1L285.2 120.2L287.7 120.2L290.2 120.3L292.8 120.3L295.3 120.4L297.8 120.4L300.3 120.5L302.8 120.5L305.3 120.6L307.8 120.7L310.3 120.7L312.8 120.8L315.4 120.9L317.9 120.9L320.4 121.0L322.9 121.1L325.4 121.2L327.9 121.3L330.4 121.4L332.9 121.5L335.4 121.6L337.9 121.7L340.5 121.8L343.0 122.0L345.5 122.1L348.0 122.2L350.5 122.3L353.0 122.5L355.5 122.6L358.0 122.7L360.5 122.8L363.0 122.9L365.6 123.0L368.1 123.1L370.6 123.3L373.1 123.4L375.6 123.5L378.1 123.6L380.6 123.7L383.1 123.8L385.6 123.9L388.2 124.0L390.7 124.2L393.2 124.3L395.7 124.4L398.2 124.5L400.7 124.7L403.2 124.8L405.7 125.0L408.2 125.1L410.7 125.3L413.2 125.4L415.7 125.6L418.2 125.8L420.7 125.9L423.2 126.1L425.7 126.3L428.2 126.5L430.7 126.8L433.2 127.0L435.7 127.3L438.2 127.6L440.7 127.9L443.2 128.3L445.7 128.6L448.2 129.0L450.7 129.4L453.1 129.7L455.6 130.1L458.1 130.5L460.6 130.9L463.1 131.3L465.6 131.7L468.1 132.1L470.5 132.4L473.0 132.8L475.5 133.1L478.0 133.5L480.5 133.8L483.0 134.1L485.5 134.4L488.0 134.7L490.5 135.0L493.0 135.3L495.5 135.6L498.0 136.0L500.4 136.3L502.9 136.7L505.4 137.0L507.9 137.4L510.4 137.8L512.8 138.2L515.3 138.7L517.8 139.1L520.3 139.5L522.8 139.9L525.2 140.4L527.7 140.8L530.2 141.3L532.6 141.7L535.1 142.2L537.6 142.7L540.0 143.2L542.5 143.7L545.0 144.2L547.4 144.7L549.9 145.2L552.3 145.7L554.8 146.2L557.3 146.7L559.7 147.2L562.2 147.7L564.7 148.2L567.1 148.7L569.6 149.2L572.0 149.8L574.5 150.3L576.9 150.9L579.4 151.5L581.8 152.1L584.2 152.8L586.6 153.5L589.0 154.3L591.4 155.1L593.7 155.9L596.1 156.8L598.5 157.7L600.8 158.5L603.2 159.4L605.6 160.2L608.0 161.0L610.3 161.8L612.7 162.6L615.1 163.4L617.5 164.3L619.9 165.1L622.2 165.9L624.6 166.8L626.9 167.7L629.2 168.7L631.5 169.7L633.8 170.8L636.0 171.9L638.2 173.1L640.5 174.3L642.7 175.4L645.0 176.5L647.3 177.5L649.6 178.5L652.0 179.4L654.3 180.2L656.7 181.1L659.1 182.0L661.4 183.0L663.6 184.0L665.8 185.2L667.9 186.5L670.0 187.9L672.1 189.3L674.2 190.8L676.2 192.3L678.2 193.9L680.1 195.5L682.0 197.1L683.8 198.8L685.6 200.5L687.4 202.3L689.1 204.2L690.8 206.0L692.5 207.9L694.1 209.9L695.8 211.8L697.4 213.7L699.0 215.6L700.6 217.5L702.3 219.5L703.8 221.4L705.4 223.4L706.9 225.4L708.4 227.5L709.9 229.5L711.2 231.6L712.5 233.7L713.8 235.9L715.1 238.1L716.3 240.3L717.4 242.5L718.6 244.8L719.7 247.0L720.7 249.3L721.7 251.6L722.7 253.9L723.7 256.2L724.6 258.6L725.5 260.9L726.4 263.3L727.2 265.7L728.0 268.1L728.6 270.5L729.2 272.9L729.8 275.3L730.4 277.8L730.9 280.3L731.4 282.7L731.8 285.2L732.3 287.7L732.7 290.2L733.1 292.6L733.5 295.1L733.9 297.6L734.2 300.1L734.6 302.6L734.9 305.1L735.3 307.6L735.6 310.1L736.0 312.5L736.3 315.0L736.6 317.5L737.0 320.0L737.3 322.5L737.6 325.0L738.0 327.5L738.3 330.0L738.6 332.5L738.9 335.0L739.2 337.5L739.6 339.9L739.9 342.4L740.2 344.9L740.6 347.4L741.0 349.9L741.4 352.3L741.9 354.8L742.5 357.3L743.0 359.7L743.7 362.1L744.3 364.6L744.9 367.0L745.6 369.4L746.2 371.9L746.8 374.3L747.4 376.7L748.0 379.2L748.6 381.6L749.1 384.1L749.6 386.6L750.1 389.0L750.7 391.5L751.2 393.9L751.7 396.4L752.2 398.9L752.7 401.3L753.2 403.8L753.8 406.2L754.3 408.7L754.9 411.1L755.5 413.6L756.0 416.0L756.5 418.5L757.0 420.9L757.5 423.4L757.9 425.9L758.4 428.3L758.8 430.8L759.1 433.3L759.5 435.8L759.9 438.3L760.3 440.8L760.6 443.3L761.0 445.7L761.3 448.2L761.7 450.7L762.0 453.2L762.4 455.7L762.7 458.2L763.0 460.7L763.4 463.2L763.7 465.7L764.0 468.2L764.3 470.6L764.6 473.1L764.8 475.6L765.1 478.1L765.3 480.6L765.6 483.1L765.8 485.6L766.0 488.1L766.2 490.6L766.4 493.2L766.6 495.7L766.8 498.2L767.0 500.7L767.1 503.2L767.3 505.7L767.4 508.2L767.5 510.7L767.7 513.2L767.8 515.7L767.8 518.2L767.9 520.7L768.0 523.2" stroke="#00ff00" stroke-dasharray="15.3 4.75 2.6 4.95 2.6 4.95 2.6 5" stroke-dashoffset="0.35"/>
<path d="M127.0 253.0L129.5 253.2L132.0 253.4L134.5 253.6L137.0 253.8L139.5 254.0L142.0 254.2L144.5 254.4L147.0 254.6L149.5 254.8L152.1 255.0L154.6 255.2L157.1 255.4L159.6 255.6L162.1 255.8L164.6 256.0L167.1 256.2L169.6 256.4L172.1 256.6L174.6 256.8L177.1 257.0L179.6 257.2L182.1 257.4L184.6 257.6L187.1 257.8L189.6 258.0L192.1 258.2L194.6 258.4L197.1 258.6L199.7 258.8L202.2 259.0L204.7 259.2L207.2 259.4L209.7 259.7L212.2 259.9L214.7 260.1L217.2 260.3L219.7 260.5L222.2 260.7L224.7 260.9L227.2 261.1L229.7 261.3L232.2 261.5L234.7 261.7L237.2 261.9L239.7 262.1L242.2 262.3L244.7 262.5L247.3 262.7L249.8 262.9L252.3 263.1L254.8 263.3L257.3 263.5L259.8 263.7L262.3 263.9L264.8 264.2L267.3 264.4L269.8 264.6L272.3 264.8L274.8 265.0L277.3 265.3L279.8 265.5L282.3 265.7L284.8 266.0L287.3 266.3L289.8 266.5L292.3 266.8L294.8 267.1L297.3 267.3L299.8 267.5L302.3 267.6L304.8 267.8L307.3 267.9L309.9 268.0L312.4 268.1L314.9 268.2L317.4 268.3L319.9 268.5L322.4 268.7L324.9 269.0L327.4 269.3L329.9 269.6L332.4 270.0L334.8 270.4L337.3 270.8L339.8 271.2L342.3 271.7L344.8 272.1L347.2 272.6L349.7 273.0L352.2 273.4L354.7 273.9L357.2 274.3L359.7 274.6L362.2 275.0L364.6 275.4L367.1 275.9L369.6 276.3L372.1 276.8L374.5 277.4L376.9 278.0L379.2 278.8L381.6 279.8L383.9 280.8L386.2 281.8L388.5 282.8L390.9 283.7L393.3 284.5L395.7 285.3L398.1 286.0L400.5 286.7L402.9 287.4L405.4 287.9L407.9 288.3L410.3 288.6L412.8 288.9L415.3 289.2L417.8 289.5L420.3 289.7L422.8 289.9L425.3 290.1L427.8 290.3L430.3 290.4L432.8 290.6L435.4 290.8L437.9 291.0L440.4 291.2L442.9 291.3L445.4 291.6L447.9 291.8L450.4 292.0L452.9 292.3L455.4 292.6L457.9 293.0L460.4 293.3L462.9 293.7L465.4 294.0L467.9 294.4L470.4 294.7L472.9 295.0L475.4 295.3L477.8 295.6L480.3 295.8L482.9 296.0L485.4 296.1L487.9 296.3L490.4 296.4L492.9 296.6L495.4 296.7L497.9 296.9L500.4 297.0L502.9 297.2L505.4 297.3L507.9 297.4L510.5 297.6L513.0 297.7L515.5 297.8L518.0 298.0L520.5 298.1L523.0 298.3L525.5 298.4L528.0 298.6L530.5 298.8L533.0 299.0L535.5 299.2L538.0 299.4L540.5 299.7L543.0 299.9L545.5 300.2L548.0 300.5L550.5 300.8L553.0 301.0L555.5 301.3L558.0 301.6L560.5 301.9L563.0 302.2L565.5 302.4L568.0 302.7L570.5 303.0L573.0 303.4L575.5 303.7L578.0 304.0L580.5 304.4L583.0 304.7L585.5 305.1L588.0 305.4L590.5 305.8L593.0 306.2L595.5 306.5L598.0 307.0L600.5 307.4L602.9 307.9L605.4 308.4L607.8 308.9L610.2 309.6L612.5 310.3L614.8 311.3L617.1 312.4L619.4 313.5L621.6 314.7L623.9 315.8L626.2 316.8L628.6 317.7L631.0 318.6L633.4 319.5L635.7 320.4L638.0 321.4L640.1 322.6L642.3 323.9L644.4 325.3L646.5 326.8L648.5 328.5L650.3 330.2L652.0 332.0L653.6 333.8L655.0 335.8L656.3 338.0L657.6 340.2L658.8 342.5L659.9 344.8L660.9 347.0L661.9 349.3L662.8 351.7L663.7 354.0L664.5 356.4L665.4 358.8L666.2 361.2L667.0 363.6L667.8 366.0L668.6 368.3L669.4 370.8L670.1 373.2L670.9 375.6L671.7 377.9L672.6 380.3L673.6 382.6L674.6 384.9L675.7 387.2L676.8 389.4L677.9 391.7L679.2 393.9L680.4 396.0L681.7 398.1L683.2 400.2L684.8 402.1L686.4 404.1L688.0 406.0L689.6 408.0L691.0 410.0L692.4 412.1L693.8 414.3L695.1 416.4L696.4 418.6L697.6 420.8L698.8 423.0L699.8 425.3L700.8 427.6L701.8 429.9L702.7 432.2L703.6 434.6L704.5 437.0L705.3 439.3L706.1 441.7L706.8 444.2L707.5 446.6L708.2 449.0L708.9 451.4L709.5 453.8L710.1 456.3L710.6 458.7L711.2 461.2L711.7 463.6L712.2 466.1L712.7 468.6L713.1 471.1L713.6 473.5L714.0 476.0L714.5 478.5L714.9 481.0L715.3 483.4L715.7 485.9L716.1 488.4L716.5 490.9L716.8 493.4L717.2 495.9L717.6 498.4L717.9 500.8L718.3 503.3L718.6 505.8L719.0 508.3L719.3 510.8L719.7 513.3L720.0 515.8L720.3 518.3L720.7 520.8L721.0 523.3" stroke="#0a00ff"/>
<path d="M127.0 414.2L129.5 414.4L132.0 414.6L134.6 414.8L137.1 415.0L139.6 415.1L142.1 415.3L144.6 415.6L147.1 415.8L149.6 416.0L152.2 416.2L154.7 416.5L157.2 416.7L159.7 416.9L162.2 417.2L164.7 417.4L167.2 417.7L169.7 418.0L172.2 418.2L174.7 418.5L177.3 418.8L179.8 419.1L182.3 419.3L184.8 419.6L187.3 419.9L189.8 420.2L192.3 420.5L194.9 420.9L197.4 421.2L199.9 421.5L202.4 421.9L204.9 422.3L207.4 422.7L209.8 423.1L212.3 423.5L214.8 424.0L217.2 424.4L219.7 424.9L222.1 425.5L224.6 426.3L227.0 427.1L229.4 427.9L231.8 428.6L234.2 429.1L236.7 429.7L239.2 430.1L241.7 430.6L244.1 431.1L246.6 431.6L249.1 432.1L251.6 432.5L254.1 433.1L256.5 433.7L258.9 434.5L261.1 435.5L263.4 436.7L265.7 437.8L267.9 439.0L270.2 440.2L272.4 441.4L274.6 442.5L276.9 443.6L279.2 444.7L281.5 445.6L283.9 446.4L286.3 447.2L288.7 448.0L291.1 448.7L293.5 449.5L295.9 450.3L298.3 451.1L300.7 452.0L303.1 452.8L305.5 453.5L307.9 454.2L310.4 454.9L312.9 455.5L315.3 456.3L317.7 457.1L319.9 458.0L322.1 459.1L324.2 460.5L326.2 462.0L328.2 463.7L330.1 465.4L332.0 467.1L333.9 468.8L335.7 470.5L337.5 472.3L339.3 474.1L341.1 475.9L342.8 477.7L344.6 479.5L346.3 481.3L348.2 483.1L350.0 484.9L351.7 486.7L353.3 488.6L354.8 490.6L356.1 492.7L357.4 494.9L358.6 497.2L359.8 499.4L360.9 501.7L361.9 504.0L362.9 506.3L363.9 508.7L364.8 511.0L365.7 513.4L366.5 515.8L367.3 518.2L368.0 520.6L368.8 523.0" stroke="#0a00ff" stroke-dasharray="2.6 4.44" stroke-dashoffset="0.65"/>
<path d="M127.0 81.8L129.5 81.8L132.0 81.8L134.5 81.8L137.1 81.9L139.6 81.9L142.1 81.9L144.6 82.0L147.1 82.0L149.6 82.0L152.1 82.1L154.7 82.1L157.2 82.1L159.7 82.2L162.2 82.2L164.7 82.2L167.2 82.3L169.7 82.3L172.3 82.3L174.8 82.4L177.3 82.4L179.8 82.4L182.3 82.5L184.8 82.5L187.3 82.5L189.9 82.6L192.4 82.6L194.9 82.6L197.4 82.7L199.9 82.7L202.4 82.8L204.9 82.8L207.4 82.8L210.0 82.9L212.5 82.9L215.0 82.9L217.5 83.0L220.0 83.0L222.5 83.0L225.0 83.1L227.6 83.1L230.1 83.1L232.6 83.2L235.1 83.2L237.6 83.3L240.1 83.3L242.6 83.3L245.2 83.4L247.7 83.4L250.2 83.4L252.7 83.5L255.2 83.5L257.7 83.6L260.2 83.6L262.8 83.6L265.3 83.7L267.8 83.7L270.3 83.7L272.8 83.8L275.3 83.8L277.8 83.9L280.4 83.9L282.9 83.9L285.4 84.0L287.9 84.0L290.4 84.1L292.9 84.1L295.4 84.1L298.0 84.2L300.5 84.2L303.0 84.2L305.5 84.3L308.0 84.3L310.5 84.4L313.0 84.4L315.5 84.4L318.1 84.5L320.6 84.5L323.1 84.5L325.6 84.6L328.1 84.6L330.6 84.6L333.1 84.7L335.7 84.7L338.2 84.7L340.7 84.8L343.2 84.8L345.7 84.9L348.2 84.9L350.7 84.9L353.3 85.0L355.8 85.0L358.3 85.1L360.8 85.2L363.3 85.2L365.8 85.3L368.3 85.4L370.8 85.4L373.4 85.5L375.9 85.6L378.4 85.7L380.9 85.8L383.4 85.9L385.9 86.0L388.4 86.1L391.0 86.2L393.5 86.3L396.0 86.4L398.5 86.5L401.0 86.6L403.5 86.7L406.0 86.8L408.5 86.9L411.0 87.0L413.6 87.1L416.1 87.2L418.6 87.3L421.1 87.4L423.6 87.4L426.1 87.5L428.6 87.6L431.2 87.7L433.7 87.8L436.2 87.9L438.7 88.0L441.2 88.1L443.7 88.1L446.2 88.2L448.7 88.3L451.3 88.4L453.8 88.5L456.3 88.6L458.8 88.7L461.3 88.8L463.8 88.9L466.3 88.9L468.8 89.0L471.4 89.1L473.9 89.2L476.4 89.3L478.9 89.5L481.4 89.6L483.9 89.7L486.4 89.8L488.9 89.9L491.4 90.0L494.0 90.1L496.5 90.3L499.0 90.4L501.5 90.6L504.0 90.8L506.5 91.0L509.0 91.2L511.5 91.4L514.0 91.6L516.5 91.9L519.0 92.1L521.5 92.4L524.0 92.6L526.5 92.9L529.0 93.2L531.5 93.4L534.0 93.7L536.5 93.9L539.0 94.2L541.5 94.4L544.0 94.7L546.5 95.0L549.0 95.2L551.5 95.5L554.0 95.8L556.6 96.0L559.1 96.3L561.5 96.6L564.0 96.9L566.5 97.2L569.0 97.5L571.5 97.9L574.0 98.2L576.5 98.5L579.0 98.9L581.5 99.3L584.0 99.6L586.4 100.0L588.9 100.4L591.4 100.8L593.9 101.2L596.4 101.6L598.9 102.0L601.4 102.5L603.9 102.9L606.4 103.4L608.9 103.9L611.3 104.4L613.8 104.9L616.3 105.5L618.7 106.0L621.1 106.6L623.6 107.2L626.0 107.9L628.4 108.5L630.7 109.2L633.1 110.0L635.5 110.8L637.8 111.7L640.2 112.7L642.5 113.7L644.8 114.7L647.1 115.9L649.4 117.0L651.6 118.2L653.8 119.3L656.0 120.5L658.1 121.8L660.3 123.1L662.4 124.4L664.6 125.8L666.7 127.3L668.8 128.7L670.8 130.3L672.8 131.8L674.8 133.4L676.7 135.0L678.6 136.7L680.4 138.4L682.1 140.1L683.8 142.0L685.4 143.9L686.9 145.9L688.4 147.9L689.9 150.0L691.4 152.1L692.9 154.1L694.3 156.2L695.8 158.2L697.3 160.3L698.7 162.3L700.1 164.4L701.4 166.5L702.7 168.7L704.0 170.9L705.1 173.1L706.2 175.4L707.2 177.7L708.2 180.0L709.1 182.3L710.0 184.7L711.0 187.0L711.9 189.4L712.8 191.7L713.7 194.1L714.6 196.4L715.5 198.7L716.4 201.1L717.4 203.4L718.4 205.7L719.3 208.0L720.3 210.4L721.3 212.7L722.2 215.0L723.9 217.0L725.5 218.9L727.1 220.9L728.6 222.9L730.1 225.0L731.6 227.0L733.0 229.1L734.4 231.2L735.9 233.3L737.3 235.5L738.6 237.6L740.0 239.8L741.2 242.0L742.5 244.2L743.6 246.4L744.7 248.7L745.8 251.0L746.8 253.3L747.8 255.6L748.8 258.0L749.8 260.3L750.7 262.7L751.7 265.1L752.5 267.5L753.4 269.9L754.3 272.3L755.1 274.7L755.9 277.1L756.6 279.5L757.4 281.9L758.1 284.3L758.8 286.8L759.5 289.2L760.2 291.7L760.8 294.1L761.4 296.6L762.1 299.1L762.7 301.5L763.3 304.0L763.8 306.5L764.4 308.9L765.0 311.4L765.5 313.9L766.0 316.4L766.5 318.9L767.0 321.4L767.5 323.8L768.0 326.3L768.6 328.8L769.1 331.3L769.6 333.8L770.1 336.3L770.6 338.8L771.1 341.3L771.6 343.7L772.0 346.2L772.5 348.7L772.9 351.2L773.3 353.7L773.7 356.2L774.1 358.8L774.4 361.3L774.7 363.8L775.1 366.3L775.4 368.8L775.7 371.3L776.0 373.9L776.3 376.4L776.6 378.9L776.9 381.4L777.1 383.9L777.4 386.5L777.7 389.0L777.9 391.5L778.2 394.0L778.4 396.6L778.7 399.1L778.9 401.6L779.2 404.1L779.4 406.7L779.6 409.2L779.8 411.7L780.0 414.3L780.2 416.8L780.4 419.3L780.5 421.8L780.7 424.4L780.9 426.9L781.0 429.4L781.2 432.0L781.3 434.5L781.5 437.0L781.6 439.6L781.8 442.1L781.9 444.6L782.0 447.2L782.2 449.7L782.3 452.3L782.4 454.8L782.5 457.3L782.6 459.9L782.7 462.4L782.8 464.9L782.9 467.5L783.0 470.0L783.1 472.5L783.2 475.1L783.3 477.6L783.4 480.1L783.4 482.7L783.5 485.2L783.6 487.8L783.7 490.3L783.7 492.8L783.8 495.4L783.9 497.9L784.0 500.4L784.1 503.0L784.2 505.5L784.3 508.0L784.4 510.6L784.5 513.1L784.7 515.6L784.8 518.2L784.9 520.7L785.0 523.2" stroke="#0a00ff" stroke-dasharray="15.3 4.75 2.6 4.95 2.6 4.95 2.6 5" stroke-dashoffset="0.35"/>
<path d="M127.0 254.5L129.5 254.7L132.0 254.9L134.5 255.2L137.0 255.4L139.6 255.6L142.1 255.8L144.6 256.1L147.1 256.3L149.6 256.5L152.1 256.8L154.6 257.0L157.1 257.3L159.6 257.5L162.1 257.7L164.6 258.0L167.1 258.2L169.7 258.5L172.2 258.7L174.7 259.0L177.2 259.2L179.7 259.4L182.2 259.7L184.7 259.9L187.2 260.1L189.7 260.4L192.2 260.6L194.8 260.9L197.3 261.1L199.8 261.4L202.3 261.6L204.8 261.9L207.3 262.2L209.8 262.5L212.3 262.8L214.8 263.1L217.3 263.4L219.8 263.7L222.3 264.1L224.8 264.4L227.2 264.8L229.7 265.2L232.2 265.7L234.7 266.1L237.2 266.6L239.6 267.0L242.1 267.5L244.6 268.0L247.1 268.5L249.5 269.0L252.0 269.5L254.5 270.0L257.0 270.5L259.4 271.0L261.9 271.5L264.4 272.0L266.9 272.4L269.3 272.9L271.8 273.3L274.3 273.7L276.8 274.2L279.3 274.6L281.8 275.0L284.3 275.4L286.7 275.8L289.2 276.2L291.7 276.7L294.2 277.1L296.6 277.6L299.1 278.1L301.6 278.6L304.1 279.2L306.5 279.7L309.0 280.2L311.4 280.8L313.9 281.4L316.3 282.0L318.8 282.7L321.2 283.3L323.6 284.0L326.0 284.8L328.4 285.5L330.8 286.3L333.2 287.1L335.6 287.9L338.0 288.8L340.3 289.6L342.7 290.5L345.1 291.4L347.4 292.3L349.8 293.3L352.1 294.2L354.4 295.2L356.7 296.2L359.0 297.4L361.2 298.6L363.5 299.8L365.7 301.0L368.0 302.1L370.3 303.0L372.6 303.8L375.0 304.4L377.5 304.9L379.9 305.4L382.4 305.9L384.9 306.3L387.4 306.7L389.9 307.0L392.4 307.4L394.9 307.8L397.4 308.3L399.9 308.7L402.4 309.2L404.9 309.8L407.3 310.3L409.8 310.9L412.2 311.4L414.7 312.0L417.1 312.6L419.6 313.2L422.0 313.8L424.5 314.4L426.9 315.0L429.4 315.6L431.9 316.2L434.3 316.8L436.8 317.4L439.2 318.1L441.6 318.8L444.0 319.6L446.3 320.5L448.6 321.5L450.9 322.6L453.2 323.8L455.4 325.0L457.6 326.4L459.7 327.7L461.7 329.2L463.6 330.8L465.4 332.6L467.1 334.4L468.9 336.3L470.7 337.9L472.7 339.5L474.7 341.1L476.7 342.6L479.2 343.2L481.7 343.8L484.2 344.4L486.6 345.1L489.1 345.9L491.5 346.7L493.9 347.5L496.2 348.4L498.6 349.3L500.9 350.3L503.2 351.3L505.6 352.4L507.9 353.5L510.2 354.7L512.4 356.0L514.6 357.3L516.8 358.6L518.8 360.0L520.9 361.4L522.8 363.0L524.8 364.6L526.6 366.4L528.5 368.2L530.3 370.1L532.0 371.9L533.7 373.8L535.4 375.7L537.1 377.6L538.7 379.5L540.3 381.5L541.9 383.5L543.4 385.6L544.9 387.6L546.4 389.7L547.9 391.7L549.5 393.8L550.9 395.9L552.4 398.0L553.7 400.1L554.9 402.3L556.0 404.6L557.0 407.0L557.9 409.3L558.7 411.7L559.7 414.1L560.6 416.5L561.5 418.9L562.5 421.2L563.4 423.6L564.3 426.0L565.3 428.3L566.4 430.6L567.5 432.9L568.6 435.1L569.9 437.3L571.2 439.5L572.5 441.6L574.0 443.8L575.4 445.9L576.8 448.0L578.3 450.1L579.8 452.2L581.2 454.3L582.7 456.3L584.3 458.4L585.9 460.4L587.4 462.4L588.9 464.5L590.2 466.6L591.4 468.8L592.6 471.0L593.8 473.3L594.9 475.5L595.9 477.9L596.9 480.2L597.8 482.6L598.7 485.0L599.5 487.5L602.1 487.7L604.6 488.0L607.2 488.3L609.7 488.7L612.3 489.1L614.8 489.6L617.3 490.2L619.8 490.8L622.3 491.5L624.8 492.2L627.3 492.8L629.8 493.5L632.3 494.1L634.9 494.6L637.4 495.2L639.9 495.7L642.5 496.3L645.0 496.9L647.5 497.5L649.9 498.2L652.4 498.9L654.8 499.8L657.2 500.8L659.5 501.8L661.9 503.0L664.2 504.1L666.5 505.3L668.8 506.4L671.1 507.6L673.3 508.9L675.6 510.2L677.8 511.5L680.0 512.9L682.2 514.2L684.3 515.7L686.4 517.1L688.5 518.6L690.6 520.1L692.7 521.7L694.8 523.2" stroke="#00c4ff"/>
<path d="M127.0 414.5L129.5 414.6L132.1 414.8L134.6 414.9L137.2 415.1L139.7 415.3L142.3 415.5L144.8 415.7L147.3 415.9L149.9 416.2L152.4 416.4L154.9 416.6L157.5 416.9L160.0 417.2L162.5 417.4L165.0 417.7L167.6 418.0L170.1 418.3L172.6 418.6L175.1 418.9L177.7 419.2L180.2 419.6L182.7 420.0L185.2 420.4L187.7 420.8L190.2 421.2L192.7 421.6L195.3 422.0L197.8 422.4L200.3 422.8L202.8 423.2L205.4 423.6L207.9 423.9L210.4 424.4L212.9 424.8L215.4 425.3L217.9 425.8L220.3 426.3L222.8 427.0L225.2 427.8L227.6 428.6L230.0 429.5L232.4 430.5L234.7 431.5L237.0 432.6L239.2 433.8L241.4 435.1L243.7 436.3L245.9 437.5L248.2 438.6L250.5 439.8L252.7 441.0L255.0 442.1L257.2 443.3L259.4 444.6L261.6 445.9L263.8 447.2L266.0 448.6L268.1 449.9L270.3 451.2L272.5 452.5L274.7 453.8L276.9 455.1L279.1 456.4L281.3 457.7L283.5 459.0L285.7 460.3L287.9 461.5L290.2 462.7L292.5 463.8L294.7 464.9L297.1 465.8L299.5 466.8L301.8 467.8L304.0 469.0L306.2 470.3L308.5 471.6L310.7 472.8L312.9 474.0L315.2 475.1L317.6 476.0L319.9 477.0L322.1 478.3L324.1 479.8L326.0 481.5L328.0 483.2L329.9 484.9L331.8 486.6L333.8 488.2L335.7 489.9L337.6 491.6L339.5 493.3L341.3 495.1L343.1 496.9L344.9 498.7L346.8 500.5L348.6 502.4L350.3 504.3L351.9 506.3L353.3 508.3L354.5 510.4L355.6 512.7L356.5 515.0L357.4 517.4L358.1 519.9L358.7 522.5" stroke="#00c4ff" stroke-dasharray="2.6 4.44" stroke-dashoffset="0.65"/>
<path d="M127.0 88.7L129.5 88.7L132.0 88.8L134.5 88.8L137.0 88.9L139.6 88.9L142.1 89.0L144.6 89.0L147.1 89.0L149.6 89.1L152.1 89.1L154.6 89.2L157.1 89.2L159.6 89.3L162.1 89.3L164.7 89.3L167.2 89.4L169.7 89.4L172.2 89.5L174.7 89.5L177.2 89.6L179.7 89.6L182.2 89.6L184.7 89.7L187.2 89.7L189.8 89.8L192.3 89.8L194.8 89.9L197.3 89.9L199.8 89.9L202.3 90.0L204.8 90.0L207.3 90.1L209.8 90.1L212.3 90.2L214.9 90.2L217.4 90.3L219.9 90.3L222.4 90.3L224.9 90.4L227.4 90.4L229.9 90.5L232.4 90.5L234.9 90.5L237.4 90.6L240.0 90.6L242.5 90.7L245.0 90.7L247.5 90.7L250.0 90.8L252.5 90.8L255.0 90.9L257.5 90.9L260.0 90.9L262.5 91.0L265.1 91.0L267.6 91.1L270.1 91.1L272.6 91.1L275.1 91.2L277.6 91.2L280.1 91.3L282.6 91.3L285.1 91.4L287.6 91.4L290.2 91.4L292.7 91.5L295.2 91.5L297.7 91.6L300.2 91.6L302.7 91.7L305.2 91.7L307.7 91.8L310.2 91.9L312.7 91.9L315.3 92.0L317.8 92.0L320.3 92.1L322.8 92.2L325.3 92.3L327.8 92.3L330.3 92.4L332.8 92.5L335.3 92.6L337.8 92.7L340.3 92.8L342.9 93.0L345.4 93.1L347.9 93.2L350.4 93.3L352.9 93.4L355.4 93.4L357.9 93.5L360.4 93.6L362.9 93.7L365.4 93.8L367.9 93.9L370.5 93.9L373.0 94.0L375.5 94.1L378.0 94.1L380.5 94.2L383.0 94.3L385.5 94.4L388.0 94.4L390.5 94.5L393.0 94.6L395.5 94.7L398.1 94.7L400.6 94.8L403.1 94.9L405.6 95.0L408.1 95.1L410.6 95.2L413.1 95.2L415.6 95.3L418.1 95.4L420.6 95.6L423.1 95.7L425.6 95.8L428.2 95.9L430.7 96.1L433.2 96.2L435.7 96.4L438.2 96.5L440.7 96.7L443.2 96.9L445.7 97.1L448.2 97.3L450.7 97.5L453.2 97.7L455.7 98.0L458.2 98.2L460.7 98.4L463.2 98.6L465.7 98.8L468.2 99.0L470.7 99.3L473.2 99.5L475.7 99.7L478.2 99.9L480.7 100.1L483.2 100.2L485.7 100.4L488.2 100.6L490.7 100.8L493.2 100.9L495.7 101.1L498.2 101.3L500.7 101.6L503.2 101.8L505.7 102.0L508.2 102.3L510.7 102.6L513.2 102.8L515.7 103.1L518.2 103.4L520.7 103.7L523.2 104.1L525.7 104.4L528.2 104.7L530.7 105.1L533.1 105.5L535.6 105.9L538.1 106.3L540.6 106.7L543.0 107.2L545.5 107.6L548.0 108.1L550.4 108.6L552.9 109.1L555.4 109.6L557.8 110.1L560.3 110.6L562.7 111.2L565.2 111.7L567.6 112.3L570.1 112.9L572.5 113.5L574.9 114.1L577.4 114.7L579.8 115.3L582.2 116.0L584.6 116.6L587.1 117.2L589.5 117.9L591.9 118.5L594.4 119.2L596.8 119.8L599.2 120.5L601.6 121.2L604.1 121.8L606.5 122.5L608.9 123.2L611.3 124.0L613.7 124.7L616.1 125.4L618.5 126.2L620.9 126.9L623.3 127.7L625.7 128.5L628.0 129.3L630.4 130.1L632.7 131.0L635.1 131.9L637.4 132.8L639.7 133.7L642.1 134.7L644.4 135.7L646.7 136.7L649.0 137.7L651.3 138.8L653.5 139.8L655.8 140.9L658.1 142.0L660.4 143.1L662.7 144.2L664.9 145.3L667.2 146.4L669.4 147.6L671.5 148.9L673.6 150.2L675.6 151.7L677.5 153.4L679.4 155.1L681.3 156.7L683.3 158.2L685.2 159.8L687.1 161.5L688.8 163.3L690.6 165.1L692.3 167.0L693.9 168.8L695.7 170.7L697.5 172.4L699.3 174.2L700.9 176.0L702.4 178.0L703.9 180.1L705.2 182.2L706.5 184.4L707.8 186.5L709.1 188.7L710.4 190.9L711.6 193.1L712.7 195.4L713.8 197.6L714.7 199.9L715.6 202.3L716.3 204.6L717.1 207.0L717.8 209.4L718.4 211.9L719.0 214.3L719.6 216.8L720.2 219.2L720.8 221.7L721.4 224.1L721.9 226.6L722.4 229.0L722.9 231.5L723.4 234.0L723.8 236.4L724.3 238.9L724.8 241.4L725.3 243.8L725.7 246.3L726.3 248.8L726.7 251.2L727.2 253.7L727.7 256.2L728.1 258.7L728.7 261.2L729.2 263.6L729.8 266.0L730.5 268.4L731.3 270.8L732.4 273.0L733.6 275.2L735.0 277.3L736.4 279.4L737.9 281.4L739.4 283.5L740.7 285.6L741.8 287.8L742.8 290.1L743.8 292.4L744.7 294.7L745.6 297.1L746.5 299.5L747.4 301.9L748.2 304.2L749.1 306.6L750.0 308.9L750.8 311.3L751.7 313.7L752.4 316.1L753.1 318.5L753.7 320.9L754.2 323.3L754.7 325.8L755.2 328.3L755.6 330.7L756.1 333.2L756.5 335.7L756.8 338.2L757.2 340.7L757.6 343.2L757.9 345.7L758.2 348.2L758.6 350.6L758.9 353.1L759.2 355.6L759.6 358.1L759.9 360.6L760.2 363.1L760.4 365.6L760.7 368.1L761.0 370.6L761.3 373.1L761.5 375.6L761.8 378.1L762.1 380.6L762.3 383.1L762.6 385.6L762.8 388.1L763.0 390.6L763.3 393.1L763.5 395.6L763.7 398.1L763.9 400.6L764.1 403.1L764.4 405.6L764.6 408.1L764.8 410.6L765.0 413.1L765.3 415.6L765.5 418.1L765.7 420.6L765.9 423.1L766.2 425.6L766.4 428.1L766.6 430.6L766.8 433.1L767.1 435.6L767.3 438.1L767.5 440.6L767.8 443.1L768.1 445.6L768.3 448.1L768.6 450.6L768.9 453.1L769.1 455.6L769.3 458.1L769.5 460.6L769.6 463.1L769.8 465.6L769.9 468.1L770.0 470.6L770.1 473.1L770.2 475.6L770.2 478.1L770.3 480.6L770.4 483.1L770.5 485.6L770.6 488.1L770.6 490.7L770.7 493.2L770.8 495.7L770.9 498.2L771.0 500.7L771.2 503.2L771.3 505.7L771.4 508.2L771.5 510.7L771.7 513.2L771.8 515.7L772.0 518.2L772.1 520.7L772.3 523.2" stroke="#00c4ff" stroke-dasharray="15.3 4.75 2.6 4.95 2.6 4.95 2.6 5" stroke-dashoffset="0.35"/>
<circle cx="354.10" cy="187.00" r="5.3" stroke="#000000"/>
<circle cx="581.40" cy="236.25" r="5.3" stroke="#000000"/>
<circle cx="354.10" cy="313.00" r="5.3" stroke="#000000"/>
<circle cx="354.10" cy="59.50" r="5.3" stroke="#000000"/>
<circle cx="581.40" cy="76.25" r="5.3" stroke="#000000"/>
<circle cx="354.10" cy="421.50" r="5.3" stroke="#ff0000"/>
<circle cx="581.40" cy="485.75" r="5.3" stroke="#ff0000"/>
<circle cx="354.10" cy="160.75" r="5.3" stroke="#ff0000"/>
<circle cx="581.40" cy="175.00" r="5.3" stroke="#ff0000"/>
<circle cx="354.10" cy="390.75" r="5.3" stroke="#00ff00"/>
<circle cx="354.10" cy="122.50" r="5.3" stroke="#00ff00"/>
<circle cx="581.40" cy="152.00" r="5.3" stroke="#00ff00"/>
<circle cx="354.10" cy="273.75" r="5.3" stroke="#0a00ff"/>
<circle cx="581.40" cy="304.50" r="5.3" stroke="#0a00ff"/>
<circle cx="354.10" cy="489.50" r="5.3" stroke="#0a00ff"/>
<circle cx="354.10" cy="85.00" r="5.3" stroke="#0a00ff"/>
<circle cx="581.40" cy="99.25" r="5.3" stroke="#0a00ff"/>
<circle cx="354.10" cy="295.00" r="5.3" stroke="#00c4ff"/>
<circle cx="581.40" cy="454.50" r="5.3" stroke="#00c4ff"/>
<circle cx="354.10" cy="509.50" r="5.3" stroke="#00c4ff"/>
<circle cx="354.10" cy="93.40" r="5.3" stroke="#00c4ff"/>
<circle cx="581.40" cy="115.75" r="5.3" stroke="#00c4ff"/>
<rect x="121.65" y="48.30" width="10.70" height="10.70" stroke="#000000" stroke-linejoin="miter"/>
<rect x="121.65" y="64.45" width="10.70" height="10.70" stroke="#0a00ff" stroke-linejoin="miter"/>
<rect x="121.65" y="82.50" width="10.70" height="10.70" stroke="#00c4ff" stroke-linejoin="miter"/>
<rect x="121.65" y="108.05" width="10.70" height="10.70" stroke="#00ff00" stroke-linejoin="miter"/>
<rect x="121.65" y="137.80" width="10.70" height="10.70" stroke="#ff0000" stroke-linejoin="miter"/>
<rect x="121.65" y="163.65" width="10.70" height="10.70" stroke="#000000" stroke-linejoin="miter"/>
<rect x="121.65" y="210.90" width="10.70" height="10.70" stroke="#0a00ff" stroke-linejoin="miter"/>
<rect x="121.65" y="244.05" width="10.70" height="10.70" stroke="#00c4ff" stroke-linejoin="miter"/>
<rect x="121.65" y="271.65" width="10.70" height="10.70" stroke="#000000" stroke-linejoin="miter"/>
<rect x="121.65" y="340.45" width="10.70" height="10.70" stroke="#00ff00" stroke-linejoin="miter"/>
<rect x="121.65" y="356.95" width="10.70" height="10.70" stroke="#0a00ff" stroke-linejoin="miter"/>
<rect x="121.65" y="354.50" width="10.70" height="10.70" stroke="#ff0000" stroke-linejoin="miter"/>
<rect x="121.65" y="398.35" width="10.70" height="10.70" stroke="#00c4ff" stroke-linejoin="miter"/>
</g>
<g fill="#000" fill-rule="evenodd" stroke="none">
<path transform="translate(44.38 52.01) scale(1.000 0.910)" d="M9.1 -18.7L8.5 -18.4L6.3 -16.1L4.5 -15.2L4.1 -14.8L4 -14.1L4.3 -13.5L4.6 -13.2L5.2 -13.1L7.2 -14L8.1 -14.9L8.2 -14.8L8.2 0.4L8.4 0.7L8.8 1L9.6 1.1L10.2 0.6L10.4 0.3L10.4 -17.9L9.9 -18.5Z"/>
<path transform="translate(60.74 52.80)" d="M4.2 -2.8L3.5 -2.5L2.6 -1.6L2.4 -1.2L2.3 -0.6L2.5 -0.2L3.6 1L4 1.1L4.5 1.1L4.9 1L6 -0.2L6.2 -0.9L6 -1.4L4.8 -2.6Z"/>
<path transform="translate(68.69 52.80)" d="M7.3 -18.7L7 -18.5L4.8 -17.9L4.3 -17.5L2.5 -14.9L1.5 -10.4L1.5 -7.2L1.6 -6.8L2.4 -2.9L4.1 -0.2L4.7 0.3L5 0.3L7.2 1.1L9.6 1.1L12.1 0.3L12.6 -0L14.4 -2.6L14.6 -3.2L14.6 -3.6L15.5 -7.5L15.5 -10L14.5 -14.6L12.8 -17.3L12 -17.9L9.8 -18.6ZM7.5 -16.5L9.3 -16.5L11 -15.9L12.5 -13.8L13.2 -10.1L13.2 -7.4L12.5 -3.8L11 -1.7L9.1 -1L7.5 -1.1L6 -1.6L5.5 -2L4.4 -3.9L3.6 -7.8L3.6 -9.8L4.5 -13.9L5.9 -15.9Z"/>
<path transform="translate(85.05 52.80)" d="M7.3 -18.7L7 -18.5L4.8 -17.9L4.3 -17.5L2.5 -14.9L1.5 -10.4L1.5 -7.2L1.6 -6.8L2.4 -2.9L4.1 -0.2L4.7 0.3L5 0.3L7.2 1.1L9.6 1.1L12.1 0.3L12.6 -0L14.4 -2.6L14.6 -3.2L14.6 -3.6L15.5 -7.5L15.5 -10L14.5 -14.6L12.8 -17.3L12 -17.9L9.8 -18.6ZM7.5 -16.5L9.3 -16.5L11 -15.9L12.5 -13.8L13.2 -10.1L13.2 -7.4L12.5 -3.8L11 -1.7L9.1 -1L7.5 -1.1L6 -1.6L5.5 -2L4.4 -3.9L3.6 -7.8L3.6 -9.8L4.5 -13.9L5.9 -15.9Z"/>
<path transform="translate(101.40 52.80)" d="M7.3 -18.7L7 -18.5L4.8 -17.9L4.3 -17.5L2.5 -14.9L1.5 -10.4L1.5 -7.2L1.6 -6.8L2.4 -2.9L4.1 -0.2L4.7 0.3L5 0.3L7.2 1.1L9.6 1.1L12.1 0.3L12.6 -0L14.4 -2.6L14.6 -3.2L14.6 -3.6L15.5 -7.5L15.5 -10L14.5 -14.6L12.8 -17.3L12 -17.9L9.8 -18.6ZM7.5 -16.5L9.3 -16.5L11 -15.9L12.5 -13.8L13.2 -10.1L13.2 -7.4L12.5 -3.8L11 -1.7L9.1 -1L7.5 -1.1L6 -1.6L5.5 -2L4.4 -3.9L3.6 -7.8L3.6 -9.8L4.5 -13.9L5.9 -15.9Z"/>
<path transform="translate(43.28 213.00)" d="M7.3 -18.7L7 -18.5L4.8 -17.9L4.3 -17.5L2.5 -14.9L1.5 -10.4L1.5 -7.2L1.6 -6.8L2.4 -2.9L4.1 -0.2L4.7 0.3L5 0.3L7.2 1.1L9.6 1.1L12.1 0.3L12.6 -0L14.4 -2.6L14.6 -3.2L14.6 -3.6L15.5 -7.5L15.5 -10L14.5 -14.6L12.8 -17.3L12 -17.9L9.8 -18.6ZM7.5 -16.5L9.3 -16.5L11 -15.9L12.5 -13.8L13.2 -10.1L13.2 -7.4L12.5 -3.8L11 -1.7L9.1 -1L7.5 -1.1L6 -1.6L5.5 -2L4.4 -3.9L3.6 -7.8L3.6 -9.8L4.5 -13.9L5.9 -15.9Z"/>
<path transform="translate(59.91 213.00)" d="M4.2 -2.8L3.5 -2.5L2.6 -1.6L2.4 -1.2L2.3 -0.6L2.5 -0.2L3.6 1L4 1.1L4.5 1.1L4.9 1L6 -0.2L6.2 -0.9L6 -1.4L4.8 -2.6Z"/>
<path transform="translate(68.14 212.21) scale(1.000 0.910)" d="M9.1 -18.7L8.5 -18.4L6.3 -16.1L4.5 -15.2L4.1 -14.8L4 -14.1L4.3 -13.5L4.6 -13.2L5.2 -13.1L7.2 -14L8.1 -14.9L8.2 -14.8L8.2 0.4L8.4 0.7L8.8 1L9.6 1.1L10.2 0.6L10.4 0.3L10.4 -17.9L9.9 -18.5Z"/>
<path transform="translate(84.77 213.00)" d="M7.3 -18.7L7 -18.5L4.8 -17.9L4.3 -17.5L2.5 -14.9L1.5 -10.4L1.5 -7.2L1.6 -6.8L2.4 -2.9L4.1 -0.2L4.7 0.3L5 0.3L7.2 1.1L9.6 1.1L12.1 0.3L12.6 -0L14.4 -2.6L14.6 -3.2L14.6 -3.6L15.5 -7.5L15.5 -10L14.5 -14.6L12.8 -17.3L12 -17.9L9.8 -18.6ZM7.5 -16.5L9.3 -16.5L11 -15.9L12.5 -13.8L13.2 -10.1L13.2 -7.4L12.5 -3.8L11 -1.7L9.1 -1L7.5 -1.1L6 -1.6L5.5 -2L4.4 -3.9L3.6 -7.8L3.6 -9.8L4.5 -13.9L5.9 -15.9Z"/>
<path transform="translate(101.40 213.00)" d="M7.3 -18.7L7 -18.5L4.8 -17.9L4.3 -17.5L2.5 -14.9L1.5 -10.4L1.5 -7.2L1.6 -6.8L2.4 -2.9L4.1 -0.2L4.7 0.3L5 0.3L7.2 1.1L9.6 1.1L12.1 0.3L12.6 -0L14.4 -2.6L14.6 -3.2L14.6 -3.6L15.5 -7.5L15.5 -10L14.5 -14.6L12.8 -17.3L12 -17.9L9.8 -18.6ZM7.5 -16.5L9.3 -16.5L11 -15.9L12.5 -13.8L13.2 -10.1L13.2 -7.4L12.5 -3.8L11 -1.7L9.1 -1L7.5 -1.1L6 -1.6L5.5 -2L4.4 -3.9L3.6 -7.8L3.6 -9.8L4.5 -13.9L5.9 -15.9Z"/>
<path transform="translate(43.28 373.30)" d="M7.3 -18.7L7 -18.5L4.8 -17.9L4.3 -17.5L2.5 -14.9L1.5 -10.4L1.5 -7.2L1.6 -6.8L2.4 -2.9L4.1 -0.2L4.7 0.3L5 0.3L7.2 1.1L9.6 1.1L12.1 0.3L12.6 -0L14.4 -2.6L14.6 -3.2L14.6 -3.6L15.5 -7.5L15.5 -10L14.5 -14.6L12.8 -17.3L12 -17.9L9.8 -18.6ZM7.5 -16.5L9.3 -16.5L11 -15.9L12.5 -13.8L13.2 -10.1L13.2 -7.4L12.5 -3.8L11 -1.7L9.1 -1L7.5 -1.1L6 -1.6L5.5 -2L4.4 -3.9L3.6 -7.8L3.6 -9.8L4.5 -13.9L5.9 -15.9Z"/>
<path transform="translate(59.91 373.30)" d="M4.2 -2.8L3.5 -2.5L2.6 -1.6L2.4 -1.2L2.3 -0.6L2.5 -0.2L3.6 1L4 1.1L4.5 1.1L4.9 1L6 -0.2L6.2 -0.9L6 -1.4L4.8 -2.6Z"/>
<path transform="translate(68.14 373.30)" d="M7.3 -18.7L7 -18.5L4.8 -17.9L4.3 -17.5L2.5 -14.9L1.5 -10.4L1.5 -7.2L1.6 -6.8L2.4 -2.9L4.1 -0.2L4.7 0.3L5 0.3L7.2 1.1L9.6 1.1L12.1 0.3L12.6 -0L14.4 -2.6L14.6 -3.2L14.6 -3.6L15.5 -7.5L15.5 -10L14.5 -14.6L12.8 -17.3L12 -17.9L9.8 -18.6ZM7.5 -16.5L9.3 -16.5L11 -15.9L12.5 -13.8L13.2 -10.1L13.2 -7.4L12.5 -3.8L11 -1.7L9.1 -1L7.5 -1.1L6 -1.6L5.5 -2L4.4 -3.9L3.6 -7.8L3.6 -9.8L4.5 -13.9L5.9 -15.9Z"/>
<path transform="translate(84.77 372.51) scale(1.000 0.910)" d="M9.1 -18.7L8.5 -18.4L6.3 -16.1L4.5 -15.2L4.1 -14.8L4 -14.1L4.3 -13.5L4.6 -13.2L5.2 -13.1L7.2 -14L8.1 -14.9L8.2 -14.8L8.2 0.4L8.4 0.7L8.8 1L9.6 1.1L10.2 0.6L10.4 0.3L10.4 -17.9L9.9 -18.5Z"/>
<path transform="translate(101.40 373.30)" d="M7.3 -18.7L7 -18.5L4.8 -17.9L4.3 -17.5L2.5 -14.9L1.5 -10.4L1.5 -7.2L1.6 -6.8L2.4 -2.9L4.1 -0.2L4.7 0.3L5 0.3L7.2 1.1L9.6 1.1L12.1 0.3L12.6 -0L14.4 -2.6L14.6 -3.2L14.6 -3.6L15.5 -7.5L15.5 -10L14.5 -14.6L12.8 -17.3L12 -17.9L9.8 -18.6ZM7.5 -16.5L9.3 -16.5L11 -15.9L12.5 -13.8L13.2 -10.1L13.2 -7.4L12.5 -3.8L11 -1.7L9.1 -1L7.5 -1.1L6 -1.6L5.5 -2L4.4 -3.9L3.6 -7.8L3.6 -9.8L4.5 -13.9L5.9 -15.9Z"/>
<path transform="translate(43.28 523.70)" d="M7.3 -18.7L7 -18.5L4.8 -17.9L4.3 -17.5L2.5 -14.9L1.5 -10.4L1.5 -7.2L1.6 -6.8L2.4 -2.9L4.1 -0.2L4.7 0.3L5 0.3L7.2 1.1L9.6 1.1L12.1 0.3L12.6 -0L14.4 -2.6L14.6 -3.2L14.6 -3.6L15.5 -7.5L15.5 -10L14.5 -14.6L12.8 -17.3L12 -17.9L9.8 -18.6ZM7.5 -16.5L9.3 -16.5L11 -15.9L12.5 -13.8L13.2 -10.1L13.2 -7.4L12.5 -3.8L11 -1.7L9.1 -1L7.5 -1.1L6 -1.6L5.5 -2L4.4 -3.9L3.6 -7.8L3.6 -9.8L4.5 -13.9L5.9 -15.9Z"/>
<path transform="translate(60.06 523.70)" d="M4.2 -2.8L3.5 -2.5L2.6 -1.6L2.4 -1.2L2.3 -0.6L2.5 -0.2L3.6 1L4 1.1L4.5 1.1L4.9 1L6 -0.2L6.2 -0.9L6 -1.4L4.8 -2.6Z"/>
<path transform="translate(68.43 523.70)" d="M7.3 -18.7L7 -18.5L4.8 -17.9L4.3 -17.5L2.5 -14.9L1.5 -10.4L1.5 -7.2L1.6 -6.8L2.4 -2.9L4.1 -0.2L4.7 0.3L5 0.3L7.2 1.1L9.6 1.1L12.1 0.3L12.6 -0L14.4 -2.6L14.6 -3.2L14.6 -3.6L15.5 -7.5L15.5 -10L14.5 -14.6L12.8 -17.3L12 -17.9L9.8 -18.6ZM7.5 -16.5L9.3 -16.5L11 -15.9L12.5 -13.8L13.2 -10.1L13.2 -7.4L12.5 -3.8L11 -1.7L9.1 -1L7.5 -1.1L6 -1.6L5.5 -2L4.4 -3.9L3.6 -7.8L3.6 -9.8L4.5 -13.9L5.9 -15.9Z"/>
<path transform="translate(85.21 523.70)" d="M7.3 -18.7L7 -18.5L4.8 -17.9L4.3 -17.5L2.5 -14.9L1.5 -10.4L1.5 -7.2L1.6 -6.8L2.4 -2.9L4.1 -0.2L4.7 0.3L5 0.3L7.2 1.1L9.6 1.1L12.1 0.3L12.6 -0L14.4 -2.6L14.6 -3.2L14.6 -3.6L15.5 -7.5L15.5 -10L14.5 -14.6L12.8 -17.3L12 -17.9L9.8 -18.6ZM7.5 -16.5L9.3 -16.5L11 -15.9L12.5 -13.8L13.2 -10.1L13.2 -7.4L12.5 -3.8L11 -1.7L9.1 -1L7.5 -1.1L6 -1.6L5.5 -2L4.4 -3.9L3.6 -7.8L3.6 -9.8L4.5 -13.9L5.9 -15.9Z"/>
<path transform="translate(101.98 522.91) scale(1.000 0.910)" d="M9.1 -18.7L8.5 -18.4L6.3 -16.1L4.5 -15.2L4.1 -14.8L4 -14.1L4.3 -13.5L4.6 -13.2L5.2 -13.1L7.2 -14L8.1 -14.9L8.2 -14.8L8.2 0.4L8.4 0.7L8.8 1L9.6 1.1L10.2 0.6L10.4 0.3L10.4 -17.9L9.9 -18.5Z"/>
<path transform="translate(104.78 561.00)" d="M7.5 -18.5L4.4 -17.5L4 -17.1L2.4 -14.6L1.5 -10.4L1.5 -7L2.3 -3L4 -0.2L4.7 0.3L6.9 1L7.1 1.1L9.5 1.1L12.3 0.1L12.6 -0.2L14.3 -2.7L14.5 -3.1L14.5 -3.5L15.3 -7.4L15.3 -10L14.4 -14.5L12.7 -17L12 -17.6L9.5 -18.5ZM7.6 -16.3L9 -16.3L11 -15.5L12.3 -13.6L13 -10L13 -7.3L12.3 -3.7L11.2 -2L10.8 -1.6L9 -1L7.4 -1.1L5.9 -1.6L5.5 -2L4.4 -3.8L3.6 -7.5L3.6 -9.9L4.4 -13.6L5.5 -15.4L5.9 -15.7Z"/>
<path transform="translate(121.53 561.00)" d="M3.9 -2.7L3.5 -2.5L2.5 -1.5L2.3 -1.1L2.3 -0.5L2.5 -0.1L3.5 0.9L3.9 1.1L4.5 1.1L5 0.8L5.8 0L6.1 -0.5L6.1 -1L5.8 -1.6L5 -2.4L4.5 -2.7Z"/>
<path transform="translate(129.97 560.22) scale(1.000 0.910)" d="M8.9 -18.5L8.5 -18.3L6 -15.8L4.5 -15L4 -14.5L4 -13.7L4.5 -13.1L5.2 -13L7.3 -14L8 -14.6L8 -14.5L8 0.1L8.2 0.6L8.5 1L8.9 1.1L9.5 1.1L10.1 0.6L10.3 0.1L10.3 -17.5L10.1 -18L9.7 -18.4Z"/>
<path transform="translate(345.18 560.22) scale(1.000 0.910)" d="M8.9 -18.5L8.5 -18.3L6 -15.8L4.5 -15L4 -14.5L4 -13.7L4.5 -13.1L5.2 -13L7.3 -14L8 -14.6L8 -14.5L8 0.1L8.2 0.6L8.5 1L8.9 1.1L9.5 1.1L10.1 0.6L10.3 0.1L10.3 -17.5L10.1 -18L9.7 -18.4Z"/>
<path transform="translate(564.38 560.22) scale(1.000 0.910)" d="M8.9 -18.5L8.5 -18.3L6 -15.8L4.5 -15L4 -14.5L4 -13.7L4.5 -13.1L5.2 -13L7.3 -14L8 -14.6L8 -14.5L8 0.1L8.2 0.6L8.5 1L8.9 1.1L9.5 1.1L10.1 0.6L10.3 0.1L10.3 -17.5L10.1 -18L9.7 -18.4Z"/>
<path transform="translate(580.97 561.00)" d="M7.5 -18.5L4.4 -17.5L4 -17.1L2.4 -14.6L1.5 -10.4L1.5 -7L2.3 -3L4 -0.2L4.7 0.3L6.9 1L7.1 1.1L9.5 1.1L12.3 0.1L12.6 -0.2L14.3 -2.7L14.5 -3.1L14.5 -3.5L15.3 -7.4L15.3 -10L14.4 -14.5L12.7 -17L12 -17.6L9.5 -18.5ZM7.6 -16.3L9 -16.3L11 -15.5L12.3 -13.6L13 -10L13 -7.3L12.3 -3.7L11.2 -2L10.8 -1.6L9 -1L7.4 -1.1L5.9 -1.6L5.5 -2L4.4 -3.8L3.6 -7.5L3.6 -9.9L4.4 -13.6L5.5 -15.4L5.9 -15.7Z"/>
<path transform="translate(783.38 560.22) scale(1.000 0.910)" d="M8.9 -18.5L8.5 -18.3L6 -15.8L4.5 -15L4 -14.5L4 -13.7L4.5 -13.1L5.2 -13L7.3 -14L8 -14.6L8 -14.5L8 0.1L8.2 0.6L8.5 1L8.9 1.1L9.5 1.1L10.1 0.6L10.3 0.1L10.3 -17.5L10.1 -18L9.7 -18.4Z"/>
<path transform="translate(799.97 561.00)" d="M7.5 -18.5L4.4 -17.5L4 -17.1L2.4 -14.6L1.5 -10.4L1.5 -7L2.3 -3L4 -0.2L4.7 0.3L6.9 1L7.1 1.1L9.5 1.1L12.3 0.1L12.6 -0.2L14.3 -2.7L14.5 -3.1L14.5 -3.5L15.3 -7.4L15.3 -10L14.4 -14.5L12.7 -17L12 -17.6L9.5 -18.5ZM7.6 -16.3L9 -16.3L11 -15.5L12.3 -13.6L13 -10L13 -7.3L12.3 -3.7L11.2 -2L10.8 -1.6L9 -1L7.4 -1.1L5.9 -1.6L5.5 -2L4.4 -3.8L3.6 -7.5L3.6 -9.9L4.4 -13.6L5.5 -15.4L5.9 -15.7Z"/>
<path transform="translate(816.57 561.00)" d="M7.5 -18.5L4.4 -17.5L4 -17.1L2.4 -14.6L1.5 -10.4L1.5 -7L2.3 -3L4 -0.2L4.7 0.3L6.9 1L7.1 1.1L9.5 1.1L12.3 0.1L12.6 -0.2L14.3 -2.7L14.5 -3.1L14.5 -3.5L15.3 -7.4L15.3 -10L14.4 -14.5L12.7 -17L12 -17.6L9.5 -18.5ZM7.6 -16.3L9 -16.3L11 -15.5L12.3 -13.6L13 -10L13 -7.3L12.3 -3.7L11.2 -2L10.8 -1.6L9 -1L7.4 -1.1L5.9 -1.6L5.5 -2L4.4 -3.8L3.6 -7.5L3.6 -9.9L4.4 -13.6L5.5 -15.4L5.9 -15.7Z"/>
<path transform="translate(420.83 593.10)" d="M10.4 -12.5L10 -12.6L7 -12.5L5.2 -11.6L4.5 -11L4.4 -12L3.8 -12.5L3.2 -12.6L2.5 -12.2L2.2 -11.5L2.2 0L2.4 0.6L2.7 1L3 1.1L3.6 1.1L4.3 0.6L4.5 0.2L4.5 -6.5L5.1 -8.5L6.5 -9.8L7.6 -10.4L10 -10.4L10.6 -10.6L11 -11L11 -11.7L10.9 -12.1Z"/>
<path transform="translate(444.80 593.10)" d="M3.2 -21.7L2.5 -21.4L2.2 -20.7L2.2 6L2.4 6.4L2.8 6.8L3.3 7L3.7 6.9L8.7 6.9L9.1 7L9.8 6.7L10.2 6.1L10.2 5.5L9.7 4.9L9.3 4.7L4.5 4.7L4.5 4.6L4.5 -19.4L4.5 -19.5L9.2 -19.5L9.5 -19.5L10 -20L10.2 -20.3L10.2 -20.9L9.8 -21.5L9.2 -21.7Z"/>
<path transform="translate(456.37 593.10)" d="M2.7 -18.2L2.4 -17.9L2.2 -17.3L2.2 0L2.4 0.6L3 1.1L3.6 1.1L4.3 0.6L4.5 0.2L4.5 -2.8L6.6 -4.9L11.8 1L12.1 1.1L12.7 1.1L13 1L13.4 0.6L13.5 0.1L13.4 -0.5L8.2 -6.5L12.5 -10.8L12.7 -11.4L12.5 -12.1L12 -12.5L11.7 -12.6L11.2 -12.5L10.8 -12.3L4.5 -6L4.5 -6.1L4.5 -17.4L4.3 -17.9L3.6 -18.4L3 -18.4Z"/>
<path transform="translate(470.42 593.10)" d="M9.5 -12.5L6.5 -12.6L4.5 -11.7L4.3 -12.1L3.8 -12.5L3.2 -12.6L2.5 -12.2L2.2 -11.5L2.2 5.9L2.4 6.4L3 6.9L3.9 6.8L4.3 6.4L4.5 6L4.5 0.3L4.5 0.2L6.4 1.1L9.5 1.1L11.6 -0L13.2 -1.6L13.5 -2.2L14.4 -4.9L14.4 -6.6L13.4 -9.6L11.4 -11.6ZM6.8 -10.4L9 -10.4L10.1 -9.8L11.5 -8.5L12.1 -6.5L12.1 -5L11.5 -3L10 -1.6L8.9 -1L6.7 -1.1L5.7 -1.6L4.5 -2.9L4.5 -8.6L5.5 -9.7Z"/>
<path transform="translate(486.11 593.10)" d="M6.5 -12.6L4.3 -11.5L2.4 -9.6L1.4 -6.5L1.5 -4.5L2.4 -1.9L4.5 0.2L6.4 1.1L9.5 1.1L11.3 0.2L13.2 -1.6L13.5 -2.4L13.4 -3L12.6 -3.5L12 -3.5L10 -1.6L8.9 -1L7 -1L5.7 -1.6L4.3 -3L3.6 -5L3.6 -6.5L4.4 -8.5L5.5 -9.7L6.8 -10.4L9 -10.4L10.1 -9.8L11.8 -8.1L12.1 -8L12.7 -8L13 -8.1L13.4 -8.5L13.5 -9.1L13.4 -9.6L11.4 -11.6L9.2 -12.6Z"/>
<path transform="translate(500.98 593.10)" d="M2.5 -21.7L2 -21.5L1.5 -21L1.5 -20.2L2.1 -19.5L2.5 -19.5L7.1 -19.5L7.2 -19.4L7.2 4.6L7.1 4.7L2.4 4.7L1.6 5.1L1.5 5.5L1.5 6.2L2 6.8L2.5 7L3 6.9L7.9 6.9L8.4 7L8.9 6.8L9.4 6.1L9.4 -21L8.9 -21.5L8.5 -21.7Z"/>
<path transform="translate(135.47 18.15)" d="M6.5 -13L4.5 -12L2.5 -10L1.4 -6.9L1.4 -4.9L2.3 -2L4.5 0.2L6.5 1.2L9.6 1.2L11.5 0.3L13.7 -1.8L13.9 -2.1L13.8 -3L13.1 -3.6L12.7 -3.7L12.3 -3.6L11.7 -3.2L10.5 -1.9L9 -1.1L7.1 -1.1L6 -1.6L4.5 -3.1L3.8 -5L3.8 -6.7L4.4 -8.5L5.8 -10L7.1 -10.6L9 -10.6L10.5 -9.9L11.7 -8.5L12.1 -8.2L12.6 -8L13.3 -8.2L13.8 -8.7L13.9 -9.6L13.6 -10L11.9 -11.8L9.6 -13Z"/>
<path transform="translate(149.99 18.15)" d="M6.5 -13L4.5 -12L2.5 -10L1.4 -6.9L1.4 -4.9L2.3 -2L4.5 0.2L6.5 1.2L9.6 1.2L11.5 0.3L13.7 -1.8L14.8 -5L14.7 -7.1L13.8 -9.8L11.5 -12L9.6 -13ZM7.1 -10.6L9 -10.6L10.5 -9.9L11.6 -8.7L12.4 -6.6L12.4 -5.1L11.6 -3L10.5 -1.9L9 -1.1L7.1 -1.1L5.8 -1.8L4.5 -3.1L3.8 -5L3.8 -6.7L4.5 -8.6L5.8 -10Z"/>
<path transform="translate(165.37 18.15)" d="M9.6 -13L6.5 -13L4.7 -12L4 -12.8L3.7 -13L3.1 -13L2.8 -12.8L2.3 -12.2L2.2 -11.8L2.2 6L2.4 6.5L3.1 7.1L3.7 7.1L4 7L4.5 6.5L4.6 6L4.6 0.4L4.7 0.3L6.5 1.2L9.6 1.2L11.9 0L13.7 -1.8L14.7 -4.6L14.8 -6.7L13.8 -9.8L11.9 -11.8ZM7.1 -10.6L9 -10.6L10.5 -9.9L11.6 -8.7L12.4 -6.6L12.4 -5.1L11.6 -3L10.5 -1.9L9 -1.1L6.9 -1.2L5.8 -1.8L4.6 -3L4.6 -8.8L5.8 -10Z"/>
<path transform="translate(203.03 18.15)" d="M9.6 -13L6.5 -13L4.7 -12L4 -12.8L3.7 -13L3.1 -13L2.8 -12.8L2.3 -12.2L2.2 -11.8L2.2 6L2.4 6.5L3.1 7.1L3.7 7.1L4 7L4.5 6.5L4.6 6L4.6 0.4L4.7 0.3L6.5 1.2L9.6 1.2L11.9 0L13.7 -1.8L14.7 -4.6L14.8 -6.7L13.8 -9.8L11.9 -11.8ZM7.1 -10.6L9 -10.6L10.5 -9.9L11.6 -8.7L12.4 -6.6L12.4 -5.1L11.6 -3L10.5 -1.9L9 -1.1L6.9 -1.2L5.8 -1.8L4.6 -3L4.6 -8.8L5.8 -10Z"/>
<path transform="translate(218.61 18.15)" d="M10.7 -12.9L10.5 -13L7.4 -13L5.5 -12L4.7 -11.4L4.5 -12.4L3.7 -13L3.1 -13L2.4 -12.4L2.2 -11.8L2.2 0.1L2.4 0.6L2.8 1L3.1 1.2L3.7 1.2L4 1L4.5 0.5L4.6 0.1L4.6 -6.6L5.3 -8.6L6.6 -10L8 -10.6L10.5 -10.6L11 -11L11.3 -11.4L11.4 -12L11.1 -12.5Z"/>
<path transform="translate(229.12 18.15)" d="M6.5 -13L4.5 -12L2.5 -10L1.4 -6.9L1.4 -4.9L2.3 -2L4.5 0.2L6.5 1.2L9.6 1.2L11.5 0.3L13.7 -1.8L14.8 -5L14.7 -7.1L13.8 -9.8L11.5 -12L9.6 -13ZM7.1 -10.6L9 -10.6L10.5 -9.9L11.6 -8.7L12.4 -6.6L12.4 -5.1L11.6 -3L10.5 -1.9L9 -1.1L7.1 -1.1L5.8 -1.8L4.5 -3.1L3.8 -5L3.8 -6.7L4.5 -8.6L5.8 -10Z"/>
<path transform="translate(266.33 18.15)" d="M9.6 -13L6.5 -13L4.7 -12L4 -12.8L3.7 -13L3.1 -13L2.8 -12.8L2.3 -12.2L2.2 -11.8L2.2 6L2.4 6.5L3.1 7.1L3.7 7.1L4 7L4.5 6.5L4.6 6L4.6 0.4L4.7 0.3L6.5 1.2L9.6 1.2L11.9 0L13.7 -1.8L14.7 -4.6L14.8 -6.7L13.8 -9.8L11.9 -11.8ZM7.1 -10.6L9 -10.6L10.5 -9.9L11.6 -8.7L12.4 -6.6L12.4 -5.1L11.6 -3L10.5 -1.9L9 -1.1L6.9 -1.2L5.8 -1.8L4.6 -3L4.6 -8.8L5.8 -10Z"/>
<path transform="translate(281.93 18.15)" d="M10.7 -12.9L10.5 -13L7.4 -13L5.5 -12L4.7 -11.4L4.5 -12.4L3.7 -13L3.1 -13L2.4 -12.4L2.2 -11.8L2.2 0.1L2.4 0.6L2.8 1L3.1 1.2L3.7 1.2L4 1L4.5 0.5L4.6 0.1L4.6 -6.6L5.3 -8.6L6.6 -10L8 -10.6L10.5 -10.6L11 -11L11.3 -11.4L11.4 -12L11.1 -12.5Z"/>
<path transform="translate(292.47 18.15)" d="M6.5 -13L4.5 -12L2.5 -10L1.4 -6.9L1.4 -4.9L2.3 -2L4.5 0.2L6.5 1.2L9.6 1.2L11.5 0.3L13.7 -1.8L14.8 -5L14.7 -7.1L13.8 -9.8L11.5 -12L9.6 -13ZM7.1 -10.6L9 -10.6L10.5 -9.9L11.6 -8.7L12.4 -6.6L12.4 -5.1L11.6 -3L10.5 -1.9L9 -1.1L7.1 -1.1L5.8 -1.8L4.5 -3.1L3.8 -5L3.8 -6.7L4.5 -8.6L5.8 -10Z"/>
<path transform="translate(308.07 18.15)" d="M4.6 -2.8L3.9 -2.8L3.4 -2.5L2.5 -1.6L2.2 -0.9L2.3 -0.4L2.5 0L3.7 1.1L3.4 1.8L2.5 2.7L2.2 3.4L2.5 4.1L2.7 4.4L3.3 4.6L3.9 4.5L5.3 3.2L6.3 1.1L6.3 -1.1L6.1 -1.5L5 -2.6Z"/>
<path transform="translate(329.67 18.15)" d="M4 -18.9L3.6 -18.7L3.1 -18L3.2 -17.1L4 -16.5L11 -16.5L11.1 -16.5L7.5 -11.7L7.3 -10.8L7.5 -10.2L8.1 -9.8L8.5 -9.7L8.6 -9.8L10.6 -9.8L12 -9.1L12.5 -8.6L13.2 -6.6L13.2 -5.1L12.5 -3.1L11.3 -1.9L9.1 -1.1L7 -1.1L5 -1.8L4.4 -2.4L3.5 -4L3.3 -4.3L2.7 -4.5L2.1 -4.5L1.5 -4L1.4 -3.5L1.5 -2.9L2.4 -1L3.4 0L4 0.4L6.5 1.2L9.7 1.2L10.2 1L12.2 0.4L12.6 0.1L14.5 -1.8L15.4 -4.3L15.5 -4.5L15.6 -6.7L14.5 -10L13.2 -11.2L11.5 -12L11 -12.1L11 -12.3L14.5 -17L14.7 -17.4L14.7 -18L14.5 -18.4L13.9 -18.9Z"/>
<path transform="translate(345.73 18.15)" d="M7.3 -18.9L6.8 -18.6L4.8 -18L4.4 -17.8L4 -17.5L2.4 -15L1.4 -10.4L1.4 -7.3L2.4 -2.7L4 -0.2L4.8 0.4L7.3 1.2L9.7 1.2L10.2 1L12.2 0.4L12.6 0.1L14.5 -2.6L14.8 -3.2L14.8 -3.6L15.6 -7.5L15.6 -10.1L14.7 -14.7L12.9 -17.5L12.2 -18L12 -18L9.7 -18.9ZM7.9 -16.5L9.1 -16.5L10.9 -16L11.3 -15.6L12.5 -13.9L13.2 -10.2L13.2 -7.5L12.5 -3.8L11.3 -2L11 -1.7L9.1 -1.1L7.9 -1.1L5.8 -1.9L4.5 -3.8L3.8 -7.4L3.8 -10.3L4.5 -13.9L5.9 -15.9Z"/>
<path transform="translate(361.80 18.15)" d="M14.1 -7L12.2 -6.1L11.7 -5.7L10.7 -3.6L10.7 -1.3L10.9 -1L13.2 1.2L15.5 1.2L17.5 0.3L18 -0.3L19 -2.2L19 -4.5L18.7 -5L16.5 -7ZM15.5 -4.7L16.5 -3.8L16.6 -2.8L16 -1.6L15 -1.1L14 -1.1L13 -2.1L13 -3L13.7 -4.2L14.7 -4.7ZM18.5 -18.7L18.1 -18.9L17.5 -18.9L15.9 -18L13.5 -17.2L11.1 -17.2L8.7 -18L7.1 -18.9L4.8 -18.9L2.9 -18L2.4 -17.5L1.4 -15.3L1.4 -13.4L1.7 -12.6L3.4 -11L4 -10.6L6.3 -10.6L8.3 -11.6L8.7 -12L9.5 -13.7L9.8 -15.2L10.5 -14.9L11 -14.8L13.5 -14.8L13.6 -14.6L1.6 -0.7L1.4 0.1L1.5 0.6L2 1L2.3 1.2L2.9 1.2L3.2 1L4 0.3L18.5 -16.6L19 -17.4L19 -18ZM6.3 -16.5L7.3 -15.5L7.3 -14.5L6.7 -13.5L5.7 -13L4.8 -13L3.8 -14L3.8 -15L4.4 -16L5.5 -16.5Z"/>
<path transform="translate(395.62 18.15)" d="M13 -13L12.2 -12.9L11.7 -12.5L11.5 -12L9.6 -13L6.5 -13L4.5 -12L2.5 -10L2.2 -9.5L1.4 -6.9L1.4 -4.9L2.5 -1.8L4.5 0.2L6.5 1.2L9.6 1.2L11.5 0.3L11.5 0.4L11.5 1.5L10.8 3.7L10.2 4.2L9 4.8L7.1 4.8L5.5 4L4.8 4L4.1 4.5L4 4.8L4 5.5L4.1 5.8L4.5 6.1L6.5 7.1L9.6 7.1L11.9 6L12.8 5L13 4.6L13.9 2.1L13.9 -2.4L14 -2.5L13.9 -2.5L13.9 -12.1L13.7 -12.5ZM7.1 -10.6L9 -10.6L10.5 -9.9L11.5 -8.7L11.5 -3L10.5 -1.9L9 -1.1L7.1 -1.1L5.8 -1.8L4.5 -3.1L3.8 -5L3.8 -6.7L4.5 -8.6L5.8 -10Z"/>
<path transform="translate(411.20 18.15)" d="M4.5 -12L2.5 -10L1.4 -6.9L1.4 -4.9L2.5 -1.8L4.5 0.2L6.5 1.2L9.6 1.2L11.5 0.3L11.6 0.4L11.7 0.7L12.4 1.2L13 1.2L13.4 1L13.9 0.4L13.9 -2.4L14 -2.5L13.9 -2.5L13.9 -12.1L13.7 -12.5L13 -13L12.4 -13L11.7 -12.5L11.6 -12.1L11.5 -12L9.6 -13L6.5 -13ZM7.1 -10.6L9 -10.6L10.5 -9.9L11.5 -8.7L11.5 -3L10.5 -1.9L9 -1.1L7.1 -1.1L5.8 -1.8L4.5 -3.1L3.8 -5L3.8 -6.7L4.5 -8.6L5.8 -10Z"/>
<path transform="translate(426.78 18.15)" d="M5.6 -13L2.8 -12L2.4 -11.5L1.5 -9.7L1.4 -9.4L1.5 -8.8L2.4 -7L2.8 -6.5L4.8 -5.5L9 -4.7L10.2 -4L10.7 -3L10.7 -2.8L10.3 -2L10 -1.7L8.3 -1.1L6.1 -1.1L4.4 -1.7L3.5 -3.2L3.3 -3.5L2.6 -3.7L1.9 -3.5L1.5 -3.1L1.4 -2.4L2.4 -0.2L3.1 0.4L5.3 1L5.5 1.2L8.9 1.2L9.1 1L11.4 0.4L12 -0L13 -2.2L13 -3.9L12.1 -5.5L11.5 -6.1L9.6 -7L5.4 -7.9L4.5 -8.3L4.2 -8.6L4 -9.1L4 -9.4L4.4 -10L5.9 -10.5L8.3 -10.6L10 -10L10.3 -9.8L10.8 -8.7L11.3 -8.2L12 -8L12.5 -8.2L12.9 -8.6L13 -9L13 -9.5L12.1 -11.5L11.9 -11.8L11.4 -12.1L11.1 -12.1L8.9 -13Z"/>
<path transform="translate(440.67 18.15)" d="M4.6 -2.8L3.9 -2.8L3.4 -2.5L2.5 -1.6L2.2 -0.9L2.3 -0.4L2.5 0L3.7 1.1L3.4 1.8L2.5 2.7L2.2 3.4L2.5 4.1L2.7 4.4L3.3 4.6L3.9 4.5L5.3 3.2L6.3 1.1L6.3 -1.1L6.1 -1.5L5 -2.6Z"/>
<path transform="translate(462.07 18.15)" d="M5.6 -13L2.8 -12L2.4 -11.5L1.5 -9.7L1.4 -9.4L1.5 -8.8L2.4 -7L2.8 -6.5L4.8 -5.5L9 -4.7L10.2 -4L10.7 -3L10.7 -2.8L10.3 -2L10 -1.7L8.3 -1.1L6.1 -1.1L4.4 -1.7L3.5 -3.2L3.3 -3.5L2.6 -3.7L1.9 -3.5L1.5 -3.1L1.4 -2.4L2.4 -0.2L3.1 0.4L5.3 1L5.5 1.2L8.9 1.2L9.1 1L11.4 0.4L12 -0L13 -2.2L13 -3.9L12.1 -5.5L11.5 -6.1L9.6 -7L5.4 -7.9L4.5 -8.3L4.2 -8.6L4 -9.1L4 -9.4L4.4 -10L5.9 -10.5L8.3 -10.6L10 -10L10.3 -9.8L10.8 -8.7L11.3 -8.2L12 -8L12.5 -8.2L12.9 -8.6L13 -9L13 -9.5L12.1 -11.5L11.9 -11.8L11.4 -12.1L11.1 -12.1L8.9 -13Z"/>
<path transform="translate(476.04 18.15)" d="M4 -18.9L3.3 -18.4L3 -17.7L3.1 -17.3L3.1 -13.1L3 -13L1.2 -12.9L0.8 -12.5L0.5 -12L0.5 -11.6L0.8 -11L1.4 -10.6L3 -10.6L3.1 -10.5L3.1 -3.8L3 -3.3L4.1 -0.1L4.5 0.2L6.5 1.2L8.8 1.2L9.1 1L9.6 0.5L9.7 0L9.5 -0.5L8.8 -1.1L7.1 -1.1L6.2 -1.5L6 -1.7L5.5 -3.5L5.5 -10.5L5.5 -10.6L8 -10.6L8.3 -10.8L8.8 -11.4L8.8 -12.1L8.6 -12.5L8 -13L5.5 -13L5.5 -13L5.5 -17.9L5.1 -18.5L4.5 -18.9Z"/>
<path transform="translate(485.79 18.15)" d="M4.5 -12L2.5 -10L1.4 -6.9L1.4 -4.9L2.5 -1.8L4.5 0.2L6.5 1.2L9.6 1.2L11.5 0.3L11.6 0.4L11.7 0.7L12.4 1.2L13 1.2L13.4 1L13.9 0.4L13.9 -2.4L14 -2.5L13.9 -2.5L13.9 -12.1L13.7 -12.5L13 -13L12.4 -13L11.7 -12.5L11.6 -12.1L11.5 -12L9.6 -13L6.5 -13ZM7.1 -10.6L9 -10.6L10.5 -9.9L11.5 -8.7L11.5 -3L10.5 -1.9L9 -1.1L7.1 -1.1L5.8 -1.8L4.5 -3.1L3.8 -5L3.8 -6.7L4.5 -8.6L5.8 -10Z"/>
<path transform="translate(501.46 18.15)" d="M2.8 -12.8L2.4 -12.4L2.2 -11.8L2.2 0.1L2.4 0.6L3.1 1.2L3.7 1.2L4 1L4.5 0.5L4.6 0.1L4.6 -8L6.6 -10L8 -10.6L9.9 -10.6L11 -10L11.5 -8.2L11.5 0.3L11.7 0.7L12.4 1.2L13 1.2L13.4 1L13.9 0.4L13.9 -8.8L12.9 -11.6L12.4 -12L10.5 -13L7.4 -13L5.5 -12L4.7 -11.4L4.5 -12.2L4 -12.8L3.7 -13L3.1 -13Z"/>
<path transform="translate(517.12 18.15)" d="M13 -18.9L12.2 -18.8L11.7 -18.4L11.5 -18L11.5 -12.1L11.5 -12L9.6 -13L6.5 -13L4.5 -12L2.5 -10L2.2 -9.5L1.4 -6.9L1.4 -4.9L2.3 -2L4.5 0.2L6.5 1.2L9.6 1.2L11.5 0.3L11.7 0.7L12 1L12.4 1.2L13 1.2L13.4 1L13.9 0.4L13.9 -2.4L14 -2.5L13.9 -2.5L13.9 -18L13.7 -18.4ZM7.1 -10.6L9 -10.6L10.5 -9.9L11.5 -8.7L11.5 -3L10.5 -1.9L9 -1.1L7.1 -1.1L5.8 -1.8L4.5 -3.1L3.8 -5L3.8 -6.7L4.5 -8.6L5.8 -10Z"/>
<path transform="translate(532.79 18.15)" d="M4.5 -12L2.5 -10L1.4 -6.9L1.4 -4.9L2.5 -1.8L4.5 0.2L6.5 1.2L9.6 1.2L11.5 0.3L11.6 0.4L11.7 0.7L12.4 1.2L13 1.2L13.4 1L13.9 0.4L13.9 -2.4L14 -2.5L13.9 -2.5L13.9 -12.1L13.7 -12.5L13 -13L12.4 -13L11.7 -12.5L11.6 -12.1L11.5 -12L9.6 -13L6.5 -13ZM7.1 -10.6L9 -10.6L10.5 -9.9L11.5 -8.7L11.5 -3L10.5 -1.9L9 -1.1L7.1 -1.1L5.8 -1.8L4.5 -3.1L3.8 -5L3.8 -6.7L4.5 -8.6L5.8 -10Z"/>
<path transform="translate(548.45 18.15)" d="M10.7 -12.9L10.5 -13L7.4 -13L5.5 -12L4.7 -11.4L4.5 -12.4L3.7 -13L3.1 -13L2.4 -12.4L2.2 -11.8L2.2 0.1L2.4 0.6L2.8 1L3.1 1.2L3.7 1.2L4 1L4.5 0.5L4.6 0.1L4.6 -6.6L5.3 -8.6L6.6 -10L8 -10.6L10.5 -10.6L11 -11L11.3 -11.4L11.4 -12L11.1 -12.5Z"/>
<path transform="translate(559.05 18.15)" d="M13 -18.9L12.2 -18.8L11.7 -18.4L11.5 -18L11.5 -12.1L11.5 -12L9.6 -13L6.5 -13L4.5 -12L2.5 -10L2.2 -9.5L1.4 -6.9L1.4 -4.9L2.3 -2L4.5 0.2L6.5 1.2L9.6 1.2L11.5 0.3L11.7 0.7L12 1L12.4 1.2L13 1.2L13.4 1L13.9 0.4L13.9 -2.4L14 -2.5L13.9 -2.5L13.9 -18L13.7 -18.4ZM7.1 -10.6L9 -10.6L10.5 -9.9L11.5 -8.7L11.5 -3L10.5 -1.9L9 -1.1L7.1 -1.1L5.8 -1.8L4.5 -3.1L3.8 -5L3.8 -6.7L4.5 -8.6L5.8 -10Z"/>
<path transform="translate(587.43 18.15)" d="M2.4 -18.3L2.2 -17.9L2.2 0.2L2.5 0.8L3 1.2L11.4 1.2L14.2 0.2L15.5 -1L16.4 -2.9L16.5 -3.3L16.5 -6L16.3 -6.5L15.4 -8.3L14.5 -9.2L15.5 -10.4L16.5 -12.5L16.5 -14.4L16.3 -15L15.3 -16.9L14.2 -17.9L11.4 -18.9L3 -18.9ZM4.6 -8L4.7 -8L11 -8L12.8 -7.5L13.5 -6.7L14 -5.7L14 -3.5L13.5 -2.4L12.9 -1.8L10.8 -1.1L4.7 -1.1L4.6 -1.2ZM4.6 -16.5L4.7 -16.5L10.8 -16.5L12.9 -15.9L13.5 -15.3L14 -14.1L14 -12.8L13.5 -11.8L12.9 -11.1L11 -10.5L4.7 -10.5L4.6 -10.5Z"/>
<path transform="translate(604.90 18.15)" d="M2.8 -18.7L2.4 -18.3L2.2 -17.7L2.2 0.1L2.4 0.6L3.1 1.2L3.7 1.2L4 1L4.5 0.5L4.6 0.1L4.6 -8L4.7 -8L14 -8L14 -8L14 0.1L14.2 0.6L14.6 1L15 1.2L15.5 1.2L15.9 1L16.3 0.6L16.5 0.1L16.5 -17.8L16.3 -18.3L15.5 -18.9L15 -18.9L14.6 -18.7L14.1 -18.1L14 -17.8L14 -10.5L14 -10.5L4.7 -10.5L4.6 -10.5L4.6 -17.8L4.5 -18.3L4 -18.7L3.7 -18.9L3.1 -18.9Z"/>
<path transform="translate(636.48 18.15)" d="M2.4 -12.4L2.2 -11.8L2.2 0.1L2.4 0.6L2.8 1L3.1 1.2L3.7 1.2L4.5 0.6L4.6 0.1L4.6 -8L6.6 -10L8 -10.6L9.9 -10.6L11 -10L11.5 -8.2L11.5 0.3L11.7 0.7L12.4 1.2L13 1.2L13.4 1L13.9 0.4L13.9 -7.9L16 -10L17.2 -10.6L19.2 -10.6L20 -10.2L20.3 -9.9L20.8 -8.4L20.8 0L20.9 0.5L21.4 1L21.7 1.2L22.3 1.2L23 0.8L23.2 0.2L23.2 -8.5L22.2 -11.5L21.7 -12L19.8 -13L16.6 -13L14.7 -12L13.3 -10.6L12.9 -11.6L12.6 -11.9L10.5 -13L7.4 -13L5.5 -12L4.7 -11.4L4.5 -12.4L3.7 -13L3.1 -13Z"/>
<path transform="translate(661.32 18.15)" d="M4.5 -12L2.5 -10L1.4 -6.9L1.4 -4.9L2.5 -1.8L4.5 0.2L6.5 1.2L9.6 1.2L11.5 0.3L11.6 0.4L11.7 0.7L12.4 1.2L13 1.2L13.4 1L13.9 0.4L13.9 -2.4L14 -2.5L13.9 -2.5L13.9 -12.1L13.7 -12.5L13 -13L12.4 -13L11.7 -12.5L11.6 -12.1L11.5 -12L9.6 -13L6.5 -13ZM7.1 -10.6L9 -10.6L10.5 -9.9L11.5 -8.7L11.5 -3L10.5 -1.9L9 -1.1L7.1 -1.1L5.8 -1.8L4.5 -3.1L3.8 -5L3.8 -6.7L4.5 -8.6L5.8 -10Z"/>
<path transform="translate(676.86 18.15)" d="M5.6 -13L2.8 -12L2.4 -11.5L1.5 -9.7L1.4 -9.4L1.5 -8.8L2.4 -7L2.8 -6.5L4.8 -5.5L9 -4.7L10.2 -4L10.7 -3L10.7 -2.8L10.3 -2L10 -1.7L8.3 -1.1L6.1 -1.1L4.4 -1.7L3.5 -3.2L3.3 -3.5L2.6 -3.7L1.9 -3.5L1.5 -3.1L1.4 -2.4L2.4 -0.2L3.1 0.4L5.3 1L5.5 1.2L8.9 1.2L9.1 1L11.4 0.4L12 -0L13 -2.2L13 -3.9L12.1 -5.5L11.5 -6.1L9.6 -7L5.4 -7.9L4.5 -8.3L4.2 -8.6L4 -9.1L4 -9.4L4.4 -10L5.9 -10.5L8.3 -10.6L10 -10L10.3 -9.8L10.8 -8.7L11.3 -8.2L12 -8L12.5 -8.2L12.9 -8.6L13 -9L13 -9.5L12.1 -11.5L11.9 -11.8L11.4 -12.1L11.1 -12.1L8.9 -13Z"/>
<path transform="translate(690.72 18.15)" d="M5.6 -13L2.8 -12L2.4 -11.5L1.5 -9.7L1.4 -9.4L1.5 -8.8L2.4 -7L2.8 -6.5L4.8 -5.5L9 -4.7L10.2 -4L10.7 -3L10.7 -2.8L10.3 -2L10 -1.7L8.3 -1.1L6.1 -1.1L4.4 -1.7L3.5 -3.2L3.3 -3.5L2.6 -3.7L1.9 -3.5L1.5 -3.1L1.4 -2.4L2.4 -0.2L3.1 0.4L5.3 1L5.5 1.2L8.9 1.2L9.1 1L11.4 0.4L12 -0L13 -2.2L13 -3.9L12.1 -5.5L11.5 -6.1L9.6 -7L5.4 -7.9L4.5 -8.3L4.2 -8.6L4 -9.1L4 -9.4L4.4 -10L5.9 -10.5L8.3 -10.6L10 -10L10.3 -9.8L10.8 -8.7L11.3 -8.2L12 -8L12.5 -8.2L12.9 -8.6L13 -9L13 -9.5L12.1 -11.5L11.9 -11.8L11.4 -12.1L11.1 -12.1L8.9 -13Z"/>
<path transform="translate(717.97 18.15)" d="M4.5 -12L2.5 -10L1.4 -6.9L1.4 -4.9L2.5 -1.8L4.5 0.2L6.5 1.2L9.6 1.2L11.5 0.3L11.6 0.4L11.7 0.7L12.4 1.2L13 1.2L13.4 1L13.9 0.4L13.9 -2.4L14 -2.5L13.9 -2.5L13.9 -12.1L13.7 -12.5L13 -13L12.4 -13L11.7 -12.5L11.6 -12.1L11.5 -12L9.6 -13L6.5 -13ZM7.1 -10.6L9 -10.6L10.5 -9.9L11.5 -8.7L11.5 -3L10.5 -1.9L9 -1.1L7.1 -1.1L5.8 -1.8L4.5 -3.1L3.8 -5L3.8 -6.7L4.5 -8.6L5.8 -10Z"/>
<path transform="translate(733.58 18.15)" d="M2.8 -12.8L2.4 -12.4L2.2 -11.8L2.2 0.1L2.4 0.6L3.1 1.2L3.7 1.2L4 1L4.5 0.5L4.6 0.1L4.6 -8L6.6 -10L8 -10.6L9.9 -10.6L11 -10L11.5 -8.2L11.5 0.3L11.7 0.7L12.4 1.2L13 1.2L13.4 1L13.9 0.4L13.9 -8.8L12.9 -11.6L12.4 -12L10.5 -13L7.4 -13L5.5 -12L4.7 -11.4L4.5 -12.2L4 -12.8L3.7 -13L3.1 -13Z"/>
<path transform="translate(749.20 18.15)" d="M13 -18.9L12.2 -18.8L11.7 -18.4L11.5 -18L11.5 -12.1L11.5 -12L9.6 -13L6.5 -13L4.5 -12L2.5 -10L2.2 -9.5L1.4 -6.9L1.4 -4.9L2.3 -2L4.5 0.2L6.5 1.2L9.6 1.2L11.5 0.3L11.7 0.7L12 1L12.4 1.2L13 1.2L13.4 1L13.9 0.4L13.9 -2.4L14 -2.5L13.9 -2.5L13.9 -18L13.7 -18.4ZM7.1 -10.6L9 -10.6L10.5 -9.9L11.5 -8.7L11.5 -3L10.5 -1.9L9 -1.1L7.1 -1.1L5.8 -1.8L4.5 -3.1L3.8 -5L3.8 -6.7L4.5 -8.6L5.8 -10Z"/>
<path transform="translate(21.40 491.37) rotate(-90)" d="M9 -21.5L8.2 -21.1L6.5 -19.4L4.8 -16.9L3.1 -13.5L2.4 -9.7L2.2 -9.3L2.2 -5.3L2.4 -4.9L3.1 -1L4.8 2.3L6.5 4.8L8.2 6.5L8.6 6.8L9 6.9L9.9 6.5L10.1 5.9L10 5.4L9.9 5L8.1 3.3L6.5 0.9L5.1 -2L4.4 -5.9L4.4 -8.7L5.2 -12.8L6.8 -15.9L8.1 -17.9L9.9 -19.6L10.1 -20.2L9.9 -21L9.4 -21.4Z"/>
<path transform="translate(21.40 481.03) rotate(-90)" d="M3.7 -18.1L3.2 -17.7L3 -17.4L3 -12.5L3 -12.5L1.4 -12.5L0.7 -12L0.5 -11.3L0.7 -10.8L1.4 -10.3L2.9 -10.3L3 -10.1L3 -2.9L4 -0.2L4.4 0.2L6.3 1.1L8.5 1.1L8.7 1L9.3 0.3L9.3 -0.2L9.1 -0.5L8.7 -1L8.5 -1L6.9 -1L6 -1.5L5.8 -1.6L5.2 -3.4L5.2 -10.2L5.3 -10.3L7.7 -10.3L8.3 -10.7L8.5 -11L8.5 -11.7L7.9 -12.4L7.6 -12.5L5.3 -12.5L5.2 -12.5L5.2 -17.4L4.8 -18L4.1 -18.2Z"/>
<path transform="translate(21.40 377.97) rotate(-90)" d="M2.3 -15.1L2.2 -14.4L2.8 -13.6L14 -7.3L2.8 -1L2.2 -0.2L2.2 0.3L2.8 1L3.6 1.1L16.9 -6.3L17.3 -6.7L17.5 -7.5L17.3 -7.9L16.9 -8.3L5 -14.9L3.9 -15.6L3 -15.7Z"/>
<path transform="translate(21.40 357.92) rotate(-90)" d="M10.1 -12.5L7.1 -12.5L5.2 -11.5L4.5 -10.9L4.4 -11L4.4 -11.7L4.2 -12L3.8 -12.4L3 -12.5L2.4 -12L2.2 -11.6L2.2 0.3L2.8 1L3.6 1.1L4.1 0.8L4.4 0.4L4.4 -6.2L5 -8.3L6.5 -9.7L7.7 -10.3L10.1 -10.3L10.5 -10.5L10.8 -10.8L11 -11.4L10.7 -12Z"/>
<path transform="translate(21.40 346.83) rotate(-90)" d="M2.4 -21.5L1.5 -21L1.4 -20.5L1.5 -19.9L3.3 -18L4.7 -15.9L6.4 -12.5L7.1 -8.6L7.1 -6L6.4 -2L4.7 1.3L3.5 3L1.5 5.3L1.4 5.9L1.6 6.5L2.1 6.8L2.5 6.9L3.3 6.5L5 4.9L6.7 2.3L8.4 -1L9.1 -4.9L9.3 -5.3L9.3 -9.3L9.1 -9.7L8.4 -13.5L6.7 -16.9L5 -19.4L3.3 -21.1L2.9 -21.4Z"/>
<path transform="translate(21.40 336.30) rotate(-90)" d="M16.9 -21.3L16.4 -21.5L16 -21.4L15.3 -20.8L1.1 4.5L0.7 5.1L0.5 5.7L0.6 6.1L1.1 6.7L1.6 6.9L2.2 6.7L2.7 6.2L17.3 -19.7L17.5 -20.5L17.2 -21Z"/>
<path transform="translate(21.40 320.47) rotate(-90)" d="M9 -21.5L8.2 -21.1L6.5 -19.4L4.8 -16.9L3.1 -13.5L2.4 -9.7L2.2 -9.3L2.2 -5.3L2.4 -4.9L3.1 -1L4.8 2.3L6.5 4.8L8.2 6.5L8.6 6.8L9 6.9L9.9 6.5L10.1 5.9L10 5.4L9.9 5L8.1 3.3L6.5 0.9L5.1 -2L4.4 -5.9L4.4 -8.7L5.2 -12.8L6.8 -15.9L8.1 -17.9L9.9 -19.6L10.1 -20.2L9.9 -21L9.4 -21.4Z"/>
<path transform="translate(21.40 308.63) rotate(-90)" d="M3.7 -18.1L3.2 -17.7L3 -17.4L3 -12.5L3 -12.5L1.4 -12.5L0.7 -12L0.5 -11.3L0.7 -10.8L1.4 -10.3L2.9 -10.3L3 -10.1L3 -2.9L4 -0.2L4.4 0.2L6.3 1.1L8.5 1.1L8.7 1L9.3 0.3L9.3 -0.2L9.1 -0.5L8.7 -1L8.5 -1L6.9 -1L6 -1.5L5.8 -1.6L5.2 -3.4L5.2 -10.2L5.3 -10.3L7.7 -10.3L8.3 -10.7L8.5 -11L8.5 -11.7L7.9 -12.4L7.6 -12.5L5.3 -12.5L5.2 -12.5L5.2 -17.4L4.8 -18L4.1 -18.2Z"/>
<path transform="translate(21.40 298.43) rotate(-90)" d="M6.2 -12.5L4.4 -11.5L2.4 -9.5L1.4 -6.6L1.4 -4.7L2.2 -2L4.4 0.2L6.3 1.1L9.3 1.1L11.3 0.1L13.2 -1.8L14.2 -4.8L14.1 -7L13.2 -9.5L11.3 -11.5L9.3 -12.5ZM6.9 -10.3L8.7 -10.3L10.1 -9.5L11.3 -8.4L12 -6.5L12 -4.9L11.3 -3L10 -1.7L8.7 -1L6.9 -1L5.5 -1.7L4.3 -3L3.6 -4.8L3.6 -6.5L4.3 -8.4L5.5 -9.6Z"/>
<path transform="translate(21.40 282.53) rotate(-90)" d="M3.7 -18.1L3.2 -17.7L3 -17.4L3 -12.5L3 -12.5L1.4 -12.5L0.7 -12L0.5 -11.3L0.7 -10.8L1.4 -10.3L2.9 -10.3L3 -10.1L3 -2.9L4 -0.2L4.4 0.2L6.3 1.1L8.5 1.1L8.7 1L9.3 0.3L9.3 -0.2L9.1 -0.5L8.7 -1L8.5 -1L6.9 -1L6 -1.5L5.8 -1.6L5.2 -3.4L5.2 -10.2L5.3 -10.3L7.7 -10.3L8.3 -10.7L8.5 -11L8.5 -11.7L7.9 -12.4L7.6 -12.5L5.3 -12.5L5.2 -12.5L5.2 -17.4L4.8 -18L4.1 -18.2Z"/>
<path transform="translate(21.40 272.32) rotate(-90)" d="M4.4 -11.5L2.4 -9.5L1.4 -6.6L1.4 -4.7L2.2 -2L2.4 -1.8L4.4 0.2L6.3 1.1L9.3 1.1L11.1 0.2L11.4 0.7L12 1.1L12.5 1.1L12.9 1L13.2 0.6L13.4 0.2L13.4 -11.5L13.2 -12L12.5 -12.5L12 -12.5L11.4 -12L11.1 -11.5L9.3 -12.5L6.3 -12.5ZM6.9 -10.3L8.7 -10.3L10.1 -9.5L11.2 -8.4L11.2 -3L10 -1.7L8.7 -1L6.9 -1L5.5 -1.7L4.3 -3L3.6 -4.8L3.6 -6.5L4.3 -8.4L5.5 -9.6Z"/>
<path transform="translate(21.40 256.42) rotate(-90)" d="M3.3 -18.2L2.6 -18L2.2 -17.4L2.2 0.3L2.4 0.6L3 1.1L3.8 1L4.2 0.7L4.4 0.4L4.4 -17.4L4 -18Z"/>
<path transform="translate(21.40 237.17) rotate(-90)" d="M2.4 -12L2.2 -11.6L2.2 0.3L2.8 1L3.6 1.1L4.1 0.8L4.4 0.4L4.4 -7.6L6.5 -9.7L7.7 -10.3L9.5 -10.3L10.4 -9.9L10.6 -9.6L11.2 -7.7L11.2 -0.4L11.1 0L11.4 0.7L12 1.1L12.5 1.1L12.9 1L13.2 0.6L13.4 0.2L13.4 -7.6L15.5 -9.7L16.6 -10.3L18.5 -10.3L19.4 -9.9L19.6 -9.5L20.1 -8L20.1 0.2L20.3 0.6L21 1.1L21.5 1.1L22.1 0.7L22.4 0L22.3 -0.3L22.3 -7.8L22.4 -8.1L21.5 -10.8L21 -11.5L19 -12.5L16 -12.5L14 -11.4L12.8 -10.2L12.3 -11.3L10.1 -12.5L7.1 -12.5L5.2 -11.5L4.5 -10.9L4.4 -11L4.4 -11.7L4.2 -12L3.8 -12.4L3 -12.5Z"/>
<path transform="translate(21.40 213.62) rotate(-90)" d="M6.3 -12.5L4.4 -11.5L2.4 -9.5L1.4 -6.8L1.4 -4.7L2.2 -2L4.4 0.2L6.3 1.1L9.3 1.1L11.3 0.1L13.2 -1.8L13.4 -2.5L13.1 -3.1L12.6 -3.5L11.9 -3.5L11.5 -3.2L10 -1.7L9 -1.1L6.9 -1L5.5 -1.7L4.3 -3L3.6 -4.8L3.6 -5.3L3.7 -5.4L12.5 -5.4L12.9 -5.5L13.2 -5.9L13.4 -6.3L13.4 -8.3L12.4 -10.4L11 -11.6L9.3 -12.5ZM4 -7.6L4.3 -8.4L5.5 -9.6L6.9 -10.3L8.7 -10.3L9.9 -9.7L10.5 -9.2L11.2 -7.7L11 -7.5L4.1 -7.5Z"/>
<path transform="translate(21.40 199.85) rotate(-90)" d="M10.1 -12.5L7.1 -12.5L5.2 -11.5L4.5 -10.9L4.4 -11L4.4 -11.7L4.2 -12L3.8 -12.4L3 -12.5L2.4 -12L2.2 -11.6L2.2 0.3L2.8 1L3.6 1.1L4.1 0.8L4.4 0.4L4.4 -6.2L5 -8.3L6.5 -9.7L7.7 -10.3L10.1 -10.3L10.5 -10.5L10.8 -10.8L11 -11.4L10.7 -12Z"/>
<path transform="translate(21.40 190.15) rotate(-90)" d="M12.5 -12.5L11.8 -12.4L11.4 -12L11.1 -11.5L9.3 -12.5L6.3 -12.5L4.4 -11.5L2.4 -9.5L1.4 -6.6L1.4 -4.7L2.2 -2L2.4 -1.8L4.4 0.2L6.3 1.1L9.3 1.1L11 0.3L11.2 0.4L11.1 1.7L10.5 3.5L10 4L8.8 4.6L6.7 4.6L5.3 3.9L4.5 3.9L4 4.4L3.9 5.3L4 5.6L4.5 6L6.1 6.8L9 6.9L9.6 6.7L11.5 5.7L12.3 4.9L12.5 4.5L13.4 1.9L13.4 -11.5L13.2 -12ZM6.9 -10.3L8.7 -10.3L10.1 -9.5L11.2 -8.4L11.2 -3L10 -1.7L8.7 -1L6.9 -1L5.5 -1.7L4.3 -3L3.6 -4.8L3.6 -6.5L4.3 -8.4L5.5 -9.6Z"/>
<path transform="translate(21.40 175.57) rotate(-90)" d="M6.3 -12.5L4.4 -11.5L2.4 -9.5L1.4 -6.8L1.4 -4.7L2.2 -2L4.4 0.2L6.3 1.1L9.3 1.1L11.3 0.1L13.2 -1.8L13.4 -2.5L13.1 -3.1L12.6 -3.5L11.9 -3.5L11.5 -3.2L10 -1.7L9 -1.1L6.9 -1L5.5 -1.7L4.3 -3L3.6 -4.8L3.6 -5.3L3.7 -5.4L12.5 -5.4L12.9 -5.5L13.2 -5.9L13.4 -6.3L13.4 -8.3L12.4 -10.4L11 -11.6L9.3 -12.5ZM4 -7.6L4.3 -8.4L5.5 -9.6L6.9 -10.3L8.7 -10.3L9.9 -9.7L10.5 -9.2L11.2 -7.7L11 -7.5L4.1 -7.5Z"/>
<path transform="translate(21.40 161.80) rotate(-90)" d="M10.1 -12.5L7.1 -12.5L5.2 -11.5L4.5 -10.9L4.4 -11L4.4 -11.7L4.2 -12L3.8 -12.4L3 -12.5L2.4 -12L2.2 -11.6L2.2 0.3L2.8 1L3.6 1.1L4.1 0.8L4.4 0.4L4.4 -6.2L5 -8.3L6.5 -9.7L7.7 -10.3L10.1 -10.3L10.5 -10.5L10.8 -10.8L11 -11.4L10.7 -12Z"/>
<path transform="translate(21.40 132.20) rotate(-90)" d="M3.7 -18.1L3.2 -17.7L3 -17.4L3 -12.5L3 -12.5L1.4 -12.5L0.7 -12L0.5 -11.3L0.7 -10.8L1.4 -10.3L2.9 -10.3L3 -10.1L3 -2.9L4 -0.2L4.4 0.2L6.3 1.1L8.5 1.1L8.7 1L9.3 0.3L9.3 -0.2L9.1 -0.5L8.7 -1L8.5 -1L6.9 -1L6 -1.5L5.8 -1.6L5.2 -3.4L5.2 -10.2L5.3 -10.3L7.7 -10.3L8.3 -10.7L8.5 -11L8.5 -11.7L7.9 -12.4L7.6 -12.5L5.3 -12.5L5.2 -12.5L5.2 -17.4L4.8 -18L4.1 -18.2Z"/>
<path transform="translate(21.40 122.23) rotate(-90)" d="M3 -12.5L2.7 -12.3L2.2 -11.6L2.2 0.3L2.8 1L3.6 1.1L4.1 0.8L4.4 0.4L4.4 -11.7L4.2 -12L3.8 -12.4ZM3.6 -19L3 -19L2.5 -18.7L1.5 -17.7L1.4 -17.4L1.4 -16.8L1.5 -16.5L2.6 -15.4L3.3 -15.1L3.7 -15.2L4.1 -15.5L5 -16.5L5.2 -16.8L5.2 -17.4L5 -17.7L4 -18.8Z"/>
<path transform="translate(21.40 115.53) rotate(-90)" d="M2.4 -12L2.2 -11.6L2.2 0.3L2.8 1L3.6 1.1L4.1 0.8L4.4 0.4L4.4 -7.6L6.5 -9.7L7.7 -10.3L9.5 -10.3L10.4 -9.9L10.6 -9.6L11.2 -7.7L11.2 -0.4L11.1 0L11.4 0.7L12 1.1L12.5 1.1L12.9 1L13.2 0.6L13.4 0.2L13.4 -7.6L15.5 -9.7L16.6 -10.3L18.5 -10.3L19.4 -9.9L19.6 -9.5L20.1 -8L20.1 0.2L20.3 0.6L21 1.1L21.5 1.1L22.1 0.7L22.4 0L22.3 -0.3L22.3 -7.8L22.4 -8.1L21.5 -10.8L21 -11.5L19 -12.5L16 -12.5L14 -11.4L12.8 -10.2L12.3 -11.3L10.1 -12.5L7.1 -12.5L5.2 -11.5L4.5 -10.9L4.4 -11L4.4 -11.7L4.2 -12L3.8 -12.4L3 -12.5Z"/>
<path transform="translate(21.40 90.89) rotate(-90)" d="M6.3 -12.5L4.4 -11.5L2.4 -9.5L1.4 -6.8L1.4 -4.7L2.2 -2L4.4 0.2L6.3 1.1L9.3 1.1L11.3 0.1L13.2 -1.8L13.4 -2.5L13.1 -3.1L12.6 -3.5L11.9 -3.5L11.5 -3.2L10 -1.7L9 -1.1L6.9 -1L5.5 -1.7L4.3 -3L3.6 -4.8L3.6 -5.3L3.7 -5.4L12.5 -5.4L12.9 -5.5L13.2 -5.9L13.4 -6.3L13.4 -8.3L12.4 -10.4L11 -11.6L9.3 -12.5ZM4 -7.6L4.3 -8.4L5.5 -9.6L6.9 -10.3L8.7 -10.3L9.9 -9.7L10.5 -9.2L11.2 -7.7L11 -7.5L4.1 -7.5Z"/>
<path transform="translate(21.40 76.03) rotate(-90)" d="M2.4 -21.5L1.5 -21L1.4 -20.5L1.5 -19.9L3.3 -18L4.7 -15.9L6.4 -12.5L7.1 -8.6L7.1 -6L6.4 -2L4.7 1.3L3.5 3L1.5 5.3L1.4 5.9L1.6 6.5L2.1 6.8L2.5 6.9L3.3 6.5L5 4.9L6.7 2.3L8.4 -1L9.1 -4.9L9.3 -5.3L9.3 -9.3L9.1 -9.7L8.4 -13.5L6.7 -16.9L5 -19.4L3.3 -21.1L2.9 -21.4Z"/>
<path transform="translate(27.60 469.38) rotate(-90) scale(1.100 1)" d="M7 -10.4L6.2 -10.3L5.9 -10L5.6 -9.6L5.6 -7.2L5.5 -7.1L5.1 -7.3L3.1 -7.2L2 -6.6L0.9 -5.5L0.7 -5.1L0.7 -4.9L0.3 -3.9L0.3 -2.3L0.9 -0.7L2.1 0.5L3 1L5.2 1.1L6 0.8L6.4 1.1L7 1.1L7.5 0.8L7.8 0.4L7.8 -1.2L7.9 -1.3L7.8 -1.4L7.8 -9.6L7.6 -10ZM4 -5.1L4.8 -5L5.1 -4.9L5.6 -4.4L5.6 -1.8L5 -1.2L4.6 -1L3.9 -1L3.4 -1.3L2.8 -1.9L2.5 -2.8L2.5 -3.3L2.8 -4.3L3.3 -4.8Z"/>
<path transform="translate(27.60 459.65) rotate(-90) scale(1.100 1)" d="M1.2 -7.1L0.9 -6.8L0.7 -6.4L0.7 -1.6L1.3 0.1L1.8 0.6L2.9 1.1L4.8 1.1L5.8 0.6L6.4 1.1L7 1.1L7.5 0.8L7.8 0.4L7.8 -1.6L7.9 -1.7L7.8 -1.8L7.8 -6.5L7.7 -6.7L7 -7.3L6.3 -7.2L5.8 -6.8L5.6 -6.5L5.6 -2.2L4.7 -1.3L4.2 -1L3.5 -1L3.1 -1.3L3 -1.7L3 -6.2L2.7 -6.9L2.3 -7.2L1.6 -7.3Z"/>
<path transform="translate(27.60 449.92) rotate(-90) scale(1.100 1)" d="M2.3 -6.8L0.9 -5.5L0.3 -3.9L0.3 -2.3L0.9 -0.7L2.1 0.5L3.3 1.1L5.2 1.1L5.9 0.8L6.4 1.1L7.2 1L7.6 0.7L7.8 0.4L7.8 -1.2L7.9 -1.3L7.8 -1.4L7.8 -6.5L7.7 -6.7L7 -7.3L6.5 -7.3L6 -7L5.1 -7.3L3.4 -7.3ZM4 -5.1L4.8 -5L5.1 -4.9L5.6 -4.4L5.6 -1.8L5 -1.2L4.6 -1L3.9 -1L3.4 -1.3L2.8 -1.9L2.5 -2.8L2.5 -3.3L2.8 -4.3L3.3 -4.8Z"/>
<path transform="translate(27.60 440.19) rotate(-90) scale(1.100 1)" d="M1.5 -10.4L0.9 -9.9L0.7 -9.5L0.7 0.2L0.9 0.6L1.2 1L1.5 1.1L2.1 1.1L2.8 0.6L3 0L3 -9.3L2.8 -9.9L2.5 -10.2L2.1 -10.4Z"/>
<path transform="translate(27.60 422.61) rotate(-90) scale(1.180 1)" d="M3.7 -10.3L3.4 -10.1L2.9 -9.5L2.7 -8.8L-0.6 -0.1L-0.5 0.5L-0.1 1L0.2 1.1L0.8 1.1L1.1 1L1.5 0.5L2.5 -2L5.5 -2L6.6 0.7L7.2 1.1L7.8 1.1L8.1 1L8.6 0.3L8.5 -0.5L5.7 -7.7L5.1 -9.5L4.6 -10.1L4.3 -10.3ZM4 -6L4.1 -5.9L4.7 -4.3L4.6 -4.1L3.4 -4.1L3.3 -4.2Z"/>
<path transform="translate(27.60 413.99) rotate(-90) scale(1.180 1)" d="M3.7 -10.3L2.3 -9.5L1.3 -8.5L0.8 -7.5L0.2 -5.6L0.3 -5.5L0.3 -3.6L0.2 -3.5L0.8 -1.6L1.2 -0.8L2.6 0.6L3.7 1.1L6 1.1L7.5 0.4L8.5 -0.8L9 -1.9L9 -3.4L9.1 -3.5L9 -3.8L8.6 -4.4L8 -4.6L7.6 -4.5L5.8 -4.6L5.2 -4.5L4.7 -3.9L4.6 -3.5L4.9 -2.8L5.5 -2.4L6.7 -2.4L6.8 -2.2L5.7 -1.1L4.3 -1L3.8 -1.3L3.1 -2L2.5 -3.6L2.5 -5.5L2.8 -6.5L3.1 -7.2L3.8 -7.9L4.3 -8.1L5.5 -8.1L6 -7.9L6.6 -7.2L7 -6.5L7.5 -6L7.9 -5.9L8.4 -6L8.9 -6.4L9 -6.7L9 -7.3L8.3 -8.7L7.1 -9.8L6 -10.3Z"/>
<path transform="translate(27.60 403.82) rotate(-90) scale(1.180 1)" d="M1.3 -10.2L0.7 -9.5L0.7 0.3L0.9 0.6L1.5 1.1L2.1 1.1L2.6 0.8L2.9 0.4L2.9 -5.4L3 -5.5L7 0.7L7.6 1.1L8.3 1.1L8.6 1L8.9 0.7L9.1 0L9 -0L9 -9.5L8.5 -10.2L8.2 -10.3L7.7 -10.3L7 -9.7L6.9 -9.5L6.9 -3.8L6.8 -3.7L2.7 -9.9L2.1 -10.3Z"/>
</g>
<g fill="none" stroke="#000" stroke-linecap="round" stroke-linejoin="round">
<path stroke-width="2.30" d="M185.65 10.6H198.5M248.95 10.6H262.05"/>
<path stroke-width="2.2" d="M23.2 433.1V426.1"/>
<path stroke-width="2.7" d="M788.6 7.6C787.6 6.9 786.4 6.6 785.3 6.6C782.6 6.6 780.7 9.2 780.7 12.5C780.7 15.8 782.6 18.4 785.3 18.4C786.5 18.4 787.7 18 788.6 17.3M781.2 12.3H786.9"/>
<path stroke-width="2.4" d="M797 14.6C795.7 14.2 795 15 795 16.4V23.6M794.2 17.6H796.7"/>
</g>
</svg></body></html>
